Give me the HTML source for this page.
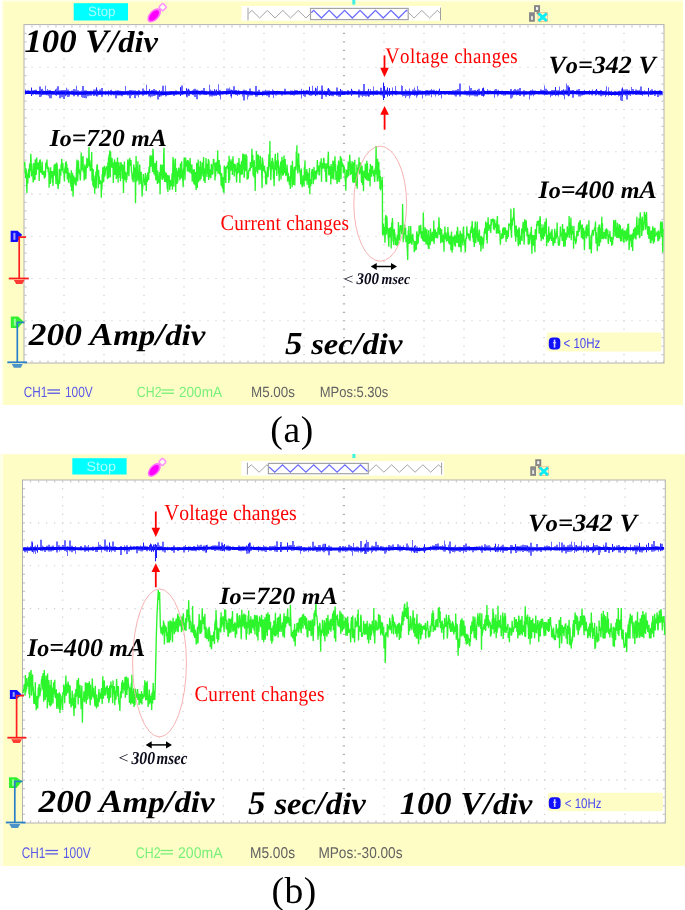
<!DOCTYPE html>
<html><head><meta charset="utf-8"><style>html,body{margin:0;padding:0;background:#fff;width:685px;height:910px;overflow:hidden}svg{display:block;filter:blur(0.5px)}</style></head>
<body>
<svg width="685" height="910" viewBox="0 0 685 910" text-rendering="geometricPrecision">
<rect width="685" height="910" fill="#fff"/>
<rect x="1.6" y="0" width="681.6" height="405" fill="#fffee8"/>
<rect x="3.4" y="1.5" width="679.6" height="403.5" fill="#fffdc6"/>
<rect x="73.7" y="3.2" width="54.3" height="17.3" fill="#00ffff"/>
<text x="88.10" y="16.30" font-family="Liberation Sans" font-size="13.66" font-weight="normal" font-style="normal" fill="#a8ffff" textLength="27.3" lengthAdjust="spacingAndGlyphs" >Stop</text>
<g transform="translate(147.50,2.60) scale(1.000,1.000) translate(-147.5,-2.6)">
<ellipse cx="154.2" cy="15.3" rx="8.6" ry="4.9" transform="rotate(-47 154.2 15.3)" fill="#ff70ff"/>
<path d="M148.3,21.6 L148.6,17.5 L152,19.8 Z" fill="#ff70ff"/>
<ellipse cx="154" cy="15.5" rx="6.4" ry="3.4" transform="rotate(-47 154 15.5)" fill="#ff00ff"/>
<rect x="159.9" y="4.3" width="5.6" height="5.6" rx="1.2" transform="rotate(45 162.7 7.1)" fill="#fffff0" stroke="#ff8cff" stroke-width="1.5"/>
</g>
<rect x="241.5" y="6" width="199.5" height="14.7" fill="#fff"/>
<polyline points="248.60,13.65 251.90,10.40 259.63,18.00 267.35,10.40 275.08,18.00 282.80,10.40 290.53,18.00 298.25,10.40 305.98,18.00 310.50,13.55" fill="none" stroke="#9a9a9a" stroke-width="0.90"/>
<polyline points="408.20,12.17 414.13,18.00 421.85,10.40 429.58,18.00 437.30,10.40 439.90,12.96" fill="none" stroke="#9a9a9a" stroke-width="0.90"/>
<rect x="310.50" y="8.40" width="97.70" height="11.20" fill="none" stroke="#a4a4a4" stroke-width="1.2"/>
<polyline points="311.30,12.76 313.70,10.40 321.43,18.00 329.15,10.40 336.88,18.00 344.60,10.40 352.33,18.00 360.05,10.40 367.78,18.00 375.50,10.40 383.23,18.00 390.95,10.40 398.68,18.00 406.40,10.40 407.40,11.38" fill="none" stroke="#6c6cff" stroke-width="1.30"/>
<line x1="248.00" y1="7.60" x2="248.00" y2="20.40" stroke="#a0a0a0" stroke-width="1.0"/>
<line x1="440.50" y1="7.60" x2="440.50" y2="20.40" stroke="#a0a0a0" stroke-width="1.0"/>
<rect x="352.3" y="0" width="3" height="4.6" fill="#40f0e0"/>
<g transform="translate(0.00,0.00) scale(1.000)">
<rect x="535" y="6.1" width="4.1" height="4.9" fill="#f4f4ee" stroke="#858585" stroke-width="1.9"/>
<rect x="536.6" y="10.8" width="2.4" height="3.4" fill="#8a8a8a"/>
<rect x="530" y="13.2" width="3.9" height="7.6" fill="#e8e8e0" stroke="#858585" stroke-width="1.9"/>
<rect x="530.9" y="14" width="2.1" height="2.2" fill="#8a8a98"/>
<rect x="538" y="12.6" width="9.4" height="8.8" fill="none" stroke="#e0a070" stroke-width="0.8" opacity="0.7"/>
<path d="M538.6,13.4 L546.8,21 M546.8,13.4 L538.6,21" stroke="#14e8f0" stroke-width="2.8"/>
<rect x="540.5" y="15" width="4.4" height="4.4" fill="#10f0f4"/>
</g>
<rect x="24" y="24.5" width="640" height="338.5" fill="#fff"/>
<line x1="31.40" y1="67.25" x2="664.00" y2="67.25" stroke="#cfcfcf" stroke-width="1.2" stroke-dasharray="1.2 6.800"/>
<line x1="31.40" y1="109.50" x2="664.00" y2="109.50" stroke="#cfcfcf" stroke-width="1.2" stroke-dasharray="1.2 6.800"/>
<line x1="31.40" y1="151.75" x2="664.00" y2="151.75" stroke="#cfcfcf" stroke-width="1.2" stroke-dasharray="1.2 6.800"/>
<line x1="31.40" y1="194.00" x2="664.00" y2="194.00" stroke="#bdbdbd" stroke-width="1.2" stroke-dasharray="1.2 6.800"/>
<line x1="31.40" y1="236.25" x2="664.00" y2="236.25" stroke="#cfcfcf" stroke-width="1.2" stroke-dasharray="1.2 6.800"/>
<line x1="31.40" y1="278.50" x2="664.00" y2="278.50" stroke="#cfcfcf" stroke-width="1.2" stroke-dasharray="1.2 6.800"/>
<line x1="31.40" y1="320.75" x2="664.00" y2="320.75" stroke="#cfcfcf" stroke-width="1.2" stroke-dasharray="1.2 6.800"/>
<line x1="64.00" y1="32.85" x2="64.00" y2="363.00" stroke="#cfcfcf" stroke-width="1.2" stroke-dasharray="1.2 7.250"/>
<line x1="104.00" y1="32.85" x2="104.00" y2="363.00" stroke="#cfcfcf" stroke-width="1.2" stroke-dasharray="1.2 7.250"/>
<line x1="144.00" y1="32.85" x2="144.00" y2="363.00" stroke="#cfcfcf" stroke-width="1.2" stroke-dasharray="1.2 7.250"/>
<line x1="184.00" y1="32.85" x2="184.00" y2="363.00" stroke="#cfcfcf" stroke-width="1.2" stroke-dasharray="1.2 7.250"/>
<line x1="224.00" y1="32.85" x2="224.00" y2="363.00" stroke="#cfcfcf" stroke-width="1.2" stroke-dasharray="1.2 7.250"/>
<line x1="264.00" y1="32.85" x2="264.00" y2="363.00" stroke="#cfcfcf" stroke-width="1.2" stroke-dasharray="1.2 7.250"/>
<line x1="304.00" y1="32.85" x2="304.00" y2="363.00" stroke="#cfcfcf" stroke-width="1.2" stroke-dasharray="1.2 7.250"/>
<line x1="344.00" y1="32.85" x2="344.00" y2="363.00" stroke="#b0b0b0" stroke-width="2.2" stroke-dasharray="1.2 7.250"/>
<line x1="384.00" y1="32.85" x2="384.00" y2="363.00" stroke="#cfcfcf" stroke-width="1.2" stroke-dasharray="1.2 7.250"/>
<line x1="424.00" y1="32.85" x2="424.00" y2="363.00" stroke="#cfcfcf" stroke-width="1.2" stroke-dasharray="1.2 7.250"/>
<line x1="464.00" y1="32.85" x2="464.00" y2="363.00" stroke="#cfcfcf" stroke-width="1.2" stroke-dasharray="1.2 7.250"/>
<line x1="504.00" y1="32.85" x2="504.00" y2="363.00" stroke="#cfcfcf" stroke-width="1.2" stroke-dasharray="1.2 7.250"/>
<line x1="544.00" y1="32.85" x2="544.00" y2="363.00" stroke="#cfcfcf" stroke-width="1.2" stroke-dasharray="1.2 7.250"/>
<line x1="584.00" y1="32.85" x2="584.00" y2="363.00" stroke="#cfcfcf" stroke-width="1.2" stroke-dasharray="1.2 7.250"/>
<line x1="624.00" y1="32.85" x2="624.00" y2="363.00" stroke="#cfcfcf" stroke-width="1.2" stroke-dasharray="1.2 7.250"/>
<line x1="31.40" y1="26.50" x2="664.00" y2="26.50" stroke="#c8c8c8" stroke-width="2" stroke-dasharray="1.2 6.800"/>
<line x1="31.40" y1="361.50" x2="664.00" y2="361.50" stroke="#c8c8c8" stroke-width="2" stroke-dasharray="1.2 6.800"/>
<line x1="25.50" y1="32.85" x2="25.50" y2="363.00" stroke="#c8c8c8" stroke-width="2" stroke-dasharray="1.2 7.250"/>
<line x1="662.50" y1="32.85" x2="662.50" y2="363.00" stroke="#c8c8c8" stroke-width="2" stroke-dasharray="1.2 7.250"/>
<rect x="24" y="24.6" width="640" height="338.4" fill="none" stroke="#b2b2b2" stroke-width="1.0"/>
<path d="M10.60,230.70 L17.50,230.70 L22.10,234.80 L17.50,242.00 L10.60,242.00 Z" fill="#1010ff"/>
<rect x="13.39" y="232.90" width="2.00" height="6.90" fill="#d8d8ff" opacity="0.75"/>
<path d="M19.2,278.5 L19.2,237.2 L26,237.2" stroke="#ff2020" stroke-width="1.7" fill="none"/>
<line x1="8.80" y1="278.50" x2="28.80" y2="278.50" stroke="#ff1a1a" stroke-width="1.8"/>
<path d="M13.80,280.10 L24.60,280.10 L22.25,283.90 L16.15,283.90 Z" fill="#ff1a1a" opacity="0.85"/>
<path d="M10.80,316.50 L18.12,316.50 L23.60,321.50 L18.12,328.00 L10.80,328.00 Z" fill="#30f030"/>
<rect x="13.83" y="318.70" width="2.00" height="7.10" fill="#c0ffc0" opacity="0.75"/>
<path d="M17.3,362.3 L17.3,322.3 L24.5,322.3" stroke="#2a80c8" stroke-width="1.7" fill="none"/>
<line x1="7.30" y1="362.30" x2="27.00" y2="362.30" stroke="#2a80c8" stroke-width="1.8"/>
<path d="M11.80,363.90 L22.80,363.90 L20.75,367.70 L13.85,367.70 Z" fill="#2a80c8" opacity="0.85"/>
<path d="M25 89.5h1v4.9h-1ZM27 90.3h2v3.6h-2ZM31 89.8h1v5.1h-1ZM32 90.4h2v4.3h-2ZM34 90.1h1v4.0h-1ZM35 89.8h2v4.8h-2ZM37 91.0h2v3.2h-2ZM39 86.4h2v10.7h-2ZM41 89.1h1v7.5h-1ZM42 88.8h1v5.9h-1ZM43 90.6h1v3.8h-1ZM44 90.9h1v3.5h-1ZM45 85.7h1v8.8h-1ZM46 90.7h1v4.6h-1ZM47 89.0h1v6.3h-1ZM48 90.2h1v6.1h-1ZM49 89.9h2v8.4h-2ZM51 90.9h1v7.4h-1ZM52 91.3h2v3.3h-2ZM54 90.7h1v3.7h-1ZM55 89.2h1v5.7h-1ZM56 88.5h1v7.6h-1ZM57 86.2h2v8.6h-2ZM59 90.3h2v7.9h-2ZM61 90.0h2v7.2h-2ZM63 90.0h2v9.0h-2ZM65 90.4h1v5.8h-1ZM66 87.7h1v7.7h-1ZM67 89.4h2v7.6h-2ZM69 91.1h1v5.4h-1ZM71 90.6h2v3.8h-2ZM73 89.1h2v7.2h-2ZM75 89.5h1v5.1h-1ZM76 85.8h1v8.9h-1ZM77 90.3h2v6.2h-2ZM79 91.3h2v3.3h-2ZM81 90.5h1v6.5h-1ZM82 86.0h2v11.8h-2ZM84 90.3h1v7.7h-1ZM85 90.2h2v8.0h-2ZM87 91.3h2v4.9h-2ZM89 91.3h1v4.5h-1ZM90 90.8h2v4.9h-2ZM93 89.5h2v6.5h-2ZM95 89.6h1v5.7h-1ZM96 89.7h2v6.9h-2ZM98 91.4h1v3.8h-1ZM99 89.6h2v5.4h-2ZM101 88.1h2v8.6h-2ZM105 90.7h1v4.5h-1ZM108 90.2h1v6.1h-1ZM110 89.9h1v5.4h-1ZM111 89.7h1v5.9h-1ZM112 90.9h1v3.6h-1ZM113 91.4h2v3.9h-2ZM115 90.5h2v7.8h-2ZM117 90.3h2v5.1h-2ZM119 90.8h2v4.6h-2ZM121 91.1h2v5.2h-2ZM123 91.4h2v3.6h-2ZM125 86.1h1v8.6h-1ZM126 91.2h1v3.6h-1ZM127 90.8h2v4.6h-2ZM129 89.9h2v8.3h-2ZM131 90.0h1v5.7h-1ZM132 90.3h2v4.8h-2ZM134 90.6h1v7.5h-1ZM135 90.2h1v8.1h-1ZM136 91.1h2v4.3h-2ZM138 89.9h1v7.4h-1ZM139 90.3h1v4.6h-1ZM142 88.6h2v7.2h-2ZM144 90.2h1v4.5h-1ZM145 91.1h1v3.4h-1ZM146 84.8h1v10.2h-1ZM148 90.7h2v5.8h-2ZM150 91.0h1v6.4h-1ZM151 90.0h2v6.4h-2ZM153 88.9h2v7.1h-2ZM155 89.9h1v5.7h-1ZM156 90.3h1v4.4h-1ZM157 91.2h2v8.4h-2ZM159 91.4h2v5.0h-2ZM161 90.7h1v5.6h-1ZM162 85.8h2v9.6h-2ZM164 91.6h1v3.3h-1ZM165 85.6h1v10.9h-1ZM166 91.3h1v5.0h-1ZM167 91.6h2v3.6h-2ZM169 91.0h2v3.7h-2ZM171 90.9h2v3.7h-2ZM173 91.2h2v4.9h-2ZM175 90.6h2v4.1h-2ZM181 85.5h2v9.2h-2ZM186 89.6h2v7.7h-2ZM188 89.8h2v6.1h-2ZM192 90.6h1v4.5h-1ZM193 89.3h1v6.0h-1ZM194 88.7h2v8.3h-2ZM196 89.8h2v9.4h-2ZM198 90.4h1v3.9h-1ZM199 90.7h2v4.6h-2ZM201 90.3h2v4.2h-2ZM203 88.0h2v6.8h-2ZM205 91.2h1v3.7h-1ZM206 90.7h1v4.3h-1ZM209 84.8h1v11.7h-1ZM210 89.6h1v6.7h-1ZM211 90.5h2v6.0h-2ZM213 91.5h2v4.3h-2ZM215 90.6h1v5.2h-1ZM217 91.1h1v3.8h-1ZM218 84.2h1v10.9h-1ZM219 89.9h1v6.1h-1ZM220 90.2h1v9.2h-1ZM226 88.6h1v6.3h-1ZM227 88.4h2v5.9h-2ZM229 87.6h1v6.5h-1ZM230 89.4h1v7.1h-1ZM231 90.1h1v8.1h-1ZM232 90.1h1v4.1h-1ZM233 86.3h2v8.3h-2ZM235 90.0h2v4.9h-2ZM237 90.7h1v5.2h-1ZM238 89.8h1v4.6h-1ZM239 90.7h1v4.4h-1ZM242 90.8h1v5.7h-1ZM243 89.7h2v10.8h-2ZM245 90.2h2v4.5h-2ZM247 91.3h1v8.3h-1ZM248 91.3h1v5.4h-1ZM249 88.5h2v7.0h-2ZM251 91.2h2v4.3h-2ZM255 86.1h2v10.6h-2ZM257 91.1h1v5.4h-1ZM258 89.8h2v5.4h-2ZM262 90.7h1v5.6h-1ZM263 90.8h2v4.5h-2ZM265 89.8h1v5.3h-1ZM266 90.4h2v5.4h-2ZM268 90.6h2v6.7h-2ZM270 91.1h2v3.2h-2ZM272 89.2h1v5.8h-1ZM273 90.3h1v7.7h-1ZM275 91.3h2v4.2h-2ZM277 90.8h1v4.0h-1ZM278 91.1h1v3.1h-1ZM281 91.3h2v4.3h-2ZM284 88.8h2v5.9h-2ZM290 90.6h1v4.6h-1ZM291 90.6h2v4.4h-2ZM293 91.1h1v4.5h-1ZM294 89.8h1v5.7h-1ZM295 90.0h2v4.6h-2ZM297 90.2h1v4.5h-1ZM298 91.0h1v3.5h-1ZM299 90.7h2v3.8h-2ZM301 88.8h1v9.6h-1ZM303 89.7h1v6.4h-1ZM304 90.5h2v6.2h-2ZM306 90.0h2v4.2h-2ZM308 90.6h2v4.2h-2ZM310 90.9h2v4.8h-2ZM312 85.8h1v9.4h-1ZM313 90.7h2v3.9h-2ZM315 88.6h2v6.6h-2ZM317 86.0h1v9.3h-1ZM319 90.4h2v4.3h-2ZM321 85.6h2v13.4h-2ZM324 90.4h1v4.7h-1ZM325 91.5h1v4.9h-1ZM326 91.2h1v5.5h-1ZM327 88.8h2v5.7h-2ZM330 90.6h1v5.0h-1ZM331 91.2h1v4.7h-1ZM332 91.5h2v4.8h-2ZM336 87.5h2v8.2h-2ZM338 91.0h2v5.7h-2ZM340 90.4h1v5.4h-1ZM341 90.2h2v4.9h-2ZM343 90.9h2v4.2h-2ZM347 90.3h2v4.7h-2ZM351 90.3h2v4.0h-2ZM358 89.6h2v7.8h-2ZM360 90.7h1v4.9h-1ZM361 91.4h1v4.4h-1ZM362 90.8h1v6.2h-1ZM363 83.9h2v12.1h-2ZM365 91.3h2v5.2h-2ZM367 90.7h1v5.4h-1ZM368 91.5h2v5.1h-2ZM370 89.1h1v5.9h-1ZM371 90.9h2v3.9h-2ZM373 86.5h1v9.6h-1ZM374 90.7h2v4.1h-2ZM376 90.2h2v4.9h-2ZM380 87.8h2v7.5h-2ZM382 90.7h1v5.7h-1ZM383 89.6h2v6.0h-2ZM385 89.8h2v4.7h-2ZM387 89.2h1v5.9h-1ZM388 90.7h2v3.8h-2ZM390 91.0h2v3.4h-2ZM392 87.6h1v8.7h-1ZM395 86.1h1v9.0h-1ZM396 90.8h1v4.5h-1ZM401 85.2h1v9.9h-1ZM402 86.1h1v10.5h-1ZM403 91.3h2v4.6h-2ZM405 89.3h1v8.8h-1ZM406 90.4h1v6.0h-1ZM407 90.8h2v5.1h-2ZM409 88.4h1v10.1h-1ZM410 90.9h1v5.4h-1ZM412 89.4h2v5.3h-2ZM414 87.6h1v8.4h-1ZM415 89.9h1v5.3h-1ZM416 90.7h1v7.0h-1ZM417 85.9h1v10.3h-1ZM418 89.4h1v5.1h-1ZM419 90.2h2v4.2h-2ZM421 90.8h1v3.7h-1ZM422 90.8h1v7.7h-1ZM423 91.1h2v3.7h-2ZM425 90.2h1v6.1h-1ZM426 89.9h2v5.6h-2ZM428 90.8h2v4.8h-2ZM430 90.2h1v4.1h-1ZM431 88.9h1v8.4h-1ZM432 89.9h1v4.1h-1ZM433 89.8h2v4.6h-2ZM435 91.2h1v5.2h-1ZM436 90.2h1v4.3h-1ZM438 90.6h1v5.2h-1ZM439 91.1h2v3.9h-2ZM441 91.1h1v7.4h-1ZM444 91.1h2v3.7h-2ZM448 91.1h1v3.8h-1ZM449 91.2h1v3.6h-1ZM450 91.2h2v3.2h-2ZM452 90.3h2v4.2h-2ZM454 90.6h1v4.9h-1ZM455 90.1h2v6.3h-2ZM457 89.1h2v5.4h-2ZM459 83.4h2v13.1h-2ZM464 90.4h2v4.2h-2ZM466 90.9h2v4.5h-2ZM468 90.4h1v4.9h-1ZM469 85.8h1v10.9h-1ZM470 87.9h2v7.6h-2ZM472 90.2h2v5.3h-2ZM474 89.9h2v6.4h-2ZM476 90.8h2v5.7h-2ZM478 88.8h2v6.4h-2ZM481 90.8h2v5.2h-2ZM483 89.9h2v5.8h-2ZM487 88.9h1v5.4h-1ZM488 90.5h1v3.7h-1ZM489 90.4h2v3.7h-2ZM492 91.0h2v3.0h-2ZM494 89.8h1v8.0h-1ZM495 89.0h2v5.2h-2ZM497 90.6h1v6.0h-1ZM498 89.8h1v5.7h-1ZM501 90.7h2v4.1h-2ZM503 91.3h1v4.4h-1ZM504 91.2h2v4.2h-2ZM510 89.0h2v9.6h-2ZM512 90.9h1v6.7h-1ZM513 89.9h1v5.3h-1ZM514 89.0h2v5.4h-2ZM516 90.0h1v5.4h-1ZM517 89.3h2v5.8h-2ZM519 88.1h2v7.8h-2ZM523 90.2h2v6.4h-2ZM525 91.3h2v3.4h-2ZM529 91.2h1v8.4h-1ZM530 90.3h2v5.1h-2ZM532 89.3h1v5.2h-1ZM533 90.6h1v5.6h-1ZM534 90.4h1v4.6h-1ZM535 90.6h1v3.7h-1ZM538 91.1h2v3.3h-2ZM540 89.6h2v4.7h-2ZM542 90.1h2v4.3h-2ZM544 85.4h1v10.0h-1ZM545 88.7h2v6.1h-2ZM547 90.1h1v4.3h-1ZM550 91.0h1v6.3h-1ZM551 89.9h2v5.9h-2ZM553 90.0h2v4.4h-2ZM555 90.9h1v5.3h-1ZM556 90.3h2v4.9h-2ZM558 90.1h1v6.5h-1ZM559 86.6h1v7.8h-1ZM560 90.9h1v3.6h-1ZM561 90.0h2v4.8h-2ZM563 91.1h1v4.7h-1ZM564 90.2h1v9.1h-1ZM565 89.5h1v4.9h-1ZM566 83.5h1v11.5h-1ZM567 85.4h2v10.0h-2ZM569 87.1h1v8.0h-1ZM570 90.6h2v3.6h-2ZM572 89.9h2v7.8h-2ZM576 89.8h2v4.8h-2ZM578 88.9h2v7.5h-2ZM580 90.9h1v5.5h-1ZM581 90.9h2v4.5h-2ZM583 90.7h1v4.2h-1ZM584 89.8h1v5.2h-1ZM585 91.2h2v3.1h-2ZM587 91.0h2v3.2h-2ZM589 90.1h1v4.9h-1ZM591 90.8h1v4.4h-1ZM592 89.4h1v6.2h-1ZM595 90.0h1v5.7h-1ZM596 90.4h2v3.6h-2ZM598 91.1h2v4.2h-2ZM600 90.1h2v6.2h-2ZM602 91.0h2v4.5h-2ZM604 91.4h1v3.3h-1ZM605 90.3h1v6.6h-1ZM606 86.2h1v9.4h-1ZM608 87.2h1v9.1h-1ZM609 90.9h1v4.1h-1ZM611 90.7h1v5.4h-1ZM614 91.0h2v4.4h-2ZM618 91.1h1v5.3h-1ZM619 90.7h1v5.4h-1ZM620 90.9h1v9.4h-1ZM621 88.7h2v12.4h-2ZM623 89.6h2v5.0h-2ZM625 89.5h1v6.2h-1ZM626 89.2h2v10.2h-2ZM628 90.5h1v4.7h-1ZM629 89.7h1v5.5h-1ZM630 90.9h1v5.0h-1ZM631 86.9h1v7.2h-1ZM632 89.1h2v5.3h-2ZM635 89.4h2v5.5h-2ZM637 90.2h2v4.1h-2ZM639 89.7h1v4.9h-1ZM640 86.4h2v8.5h-2ZM642 91.0h1v5.1h-1ZM644 90.3h1v3.9h-1ZM650 90.1h1v4.9h-1ZM651 89.2h2v5.6h-2ZM654 90.2h1v5.8h-1ZM655 90.3h1v5.5h-1ZM656 91.0h1v3.3h-1ZM657 90.8h2v6.3h-2ZM659 90.2h2v5.3h-2ZM661 91.2h2v4.0h-2Z" fill="#3030ff" opacity="0.72"/>
<polyline points="25,92.51 26,92.45 27,92.40 28,92.36 29,92.33 30,92.31 31,92.31 32,92.32 33,92.35 34,92.39 35,92.44 36,92.49 37,92.54 38,92.60 39,92.65 40,92.69 41,92.72 42,92.74 43,92.75 44,92.75 45,92.75 46,92.74 47,92.73 48,92.72 49,92.71 50,92.72 51,92.72 52,92.74 53,92.76 54,92.79 55,92.81 56,92.84 57,92.86 58,92.88 59,92.89 60,92.89 61,92.89 62,92.88 63,92.88 64,92.87 65,92.86 66,92.86 67,92.87 68,92.88 69,92.89 70,92.91 71,92.94 72,92.97 73,93.00 74,93.03 75,93.06 76,93.08 77,93.10 78,93.11 79,93.12 80,93.11 81,93.10 82,93.08 83,93.05 84,93.02 85,92.99 86,92.96 87,92.93 88,92.91 89,92.89 90,92.88 91,92.88 92,92.88 93,92.88 94,92.89 95,92.90 96,92.91 97,92.92 98,92.92 99,92.92 100,92.91 101,92.90 102,92.88 103,92.86 104,92.84 105,92.83 106,92.81 107,92.80 108,92.80 109,92.80 110,92.81 111,92.82 112,92.85 113,92.88 114,92.90 115,92.93 116,92.96 117,92.99 118,93.01 119,93.02 120,93.02 121,93.02 122,93.01 123,92.99 124,92.97 125,92.95 126,92.93 127,92.90 128,92.88 129,92.86 130,92.83 131,92.82 132,92.80 133,92.79 134,92.79 135,92.79 136,92.79 137,92.79 138,92.80 139,92.81 140,92.81 141,92.80 142,92.79 143,92.78 144,92.76 145,92.73 146,92.70 147,92.67 148,92.65 149,92.64 150,92.63 151,92.64 152,92.67 153,92.70 154,92.75 155,92.82 156,92.89 157,92.96 158,93.03 159,93.10 160,93.16 161,93.21 162,93.24 163,93.26 164,93.26 165,93.24 166,93.21 167,93.18 168,93.13 169,93.08 170,93.03 171,92.98 172,92.94 173,92.90 174,92.88 175,92.85 176,92.84 177,92.82 178,92.81 179,92.81 180,92.79 181,92.78 182,92.76 183,92.74 184,92.72 185,92.69 186,92.67 187,92.64 188,92.61 189,92.58 190,92.56 191,92.54 192,92.52 193,92.51 194,92.50 195,92.50 196,92.51 197,92.52 198,92.53 199,92.55 200,92.58 201,92.61 202,92.65 203,92.69 204,92.73 205,92.77 206,92.81 207,92.85 208,92.89 209,92.92 210,92.95 211,92.97 212,92.98 213,92.99 214,92.99 215,92.98 216,92.97 217,92.96 218,92.94 219,92.91 220,92.89 221,92.85 222,92.81 223,92.76 224,92.71 225,92.65 226,92.60 227,92.55 228,92.50 229,92.46 230,92.43 231,92.41 232,92.41 233,92.42 234,92.44 235,92.46 236,92.49 237,92.53 238,92.56 239,92.59 240,92.62 241,92.64 242,92.66 243,92.68 244,92.70 245,92.72 246,92.75 247,92.79 248,92.84 249,92.89 250,92.95 251,93.01 252,93.08 253,93.14 254,93.20 255,93.26 256,93.31 257,93.34 258,93.37 259,93.38 260,93.38 261,93.37 262,93.35 263,93.31 264,93.27 265,93.22 266,93.17 267,93.11 268,93.05 269,92.99 270,92.93 271,92.88 272,92.83 273,92.79 274,92.76 275,92.73 276,92.72 277,92.72 278,92.73 279,92.74 280,92.76 281,92.79 282,92.82 283,92.84 284,92.87 285,92.89 286,92.90 287,92.91 288,92.91 289,92.91 290,92.90 291,92.88 292,92.85 293,92.82 294,92.79 295,92.76 296,92.73 297,92.70 298,92.68 299,92.66 300,92.64 301,92.64 302,92.64 303,92.64 304,92.65 305,92.67 306,92.69 307,92.71 308,92.72 309,92.74 310,92.76 311,92.77 312,92.79 313,92.81 314,92.82 315,92.84 316,92.86 317,92.88 318,92.91 319,92.93 320,92.95 321,92.97 322,92.98 323,92.99 324,93.00 325,93.01 326,93.01 327,93.02 328,93.02 329,93.03 330,93.04 331,93.05 332,93.07 333,93.09 334,93.11 335,93.13 336,93.15 337,93.17 338,93.18 339,93.19 340,93.18 341,93.16 342,93.14 343,93.10 344,93.06 345,93.01 346,92.96 347,92.90 348,92.85 349,92.81 350,92.78 351,92.75 352,92.74 353,92.74 354,92.75 355,92.77 356,92.79 357,92.82 358,92.85 359,92.87 360,92.89 361,92.91 362,92.92 363,92.92 364,92.92 365,92.91 366,92.90 367,92.89 368,92.87 369,92.86 370,92.86 371,92.86 372,92.86 373,92.87 374,92.88 375,92.89 376,92.91 377,92.93 378,92.94 379,92.96 380,92.97 381,92.97 382,92.97 383,92.97 384,92.96 385,92.94 386,92.92 387,92.89 388,92.86 389,92.83 390,92.81 391,92.78 392,92.76 393,92.75 394,92.74 395,92.74 396,92.75 397,92.77 398,92.79 399,92.81 400,92.83 401,92.86 402,92.88 403,92.90 404,92.91 405,92.93 406,92.94 407,92.95 408,92.96 409,92.97 410,92.98 411,92.99 412,93.00 413,93.01 414,93.02 415,93.02 416,93.02 417,93.00 418,92.98 419,92.94 420,92.90 421,92.84 422,92.78 423,92.72 424,92.66 425,92.61 426,92.57 427,92.53 428,92.51 429,92.51 430,92.51 431,92.52 432,92.54 433,92.56 434,92.58 435,92.61 436,92.62 437,92.63 438,92.64 439,92.64 440,92.64 441,92.63 442,92.62 443,92.62 444,92.61 445,92.62 446,92.62 447,92.64 448,92.66 449,92.69 450,92.72 451,92.76 452,92.79 453,92.83 454,92.86 455,92.89 456,92.92 457,92.94 458,92.95 459,92.96 460,92.96 461,92.96 462,92.95 463,92.95 464,92.94 465,92.93 466,92.93 467,92.92 468,92.92 469,92.92 470,92.92 471,92.93 472,92.93 473,92.94 474,92.94 475,92.95 476,92.95 477,92.94 478,92.92 479,92.90 480,92.88 481,92.84 482,92.81 483,92.76 484,92.72 485,92.68 486,92.64 487,92.61 488,92.58 489,92.56 490,92.55 491,92.55 492,92.56 493,92.57 494,92.59 495,92.61 496,92.63 497,92.65 498,92.67 499,92.69 500,92.70 501,92.71 502,92.71 503,92.72 504,92.72 505,92.72 506,92.73 507,92.73 508,92.75 509,92.76 510,92.79 511,92.81 512,92.84 513,92.86 514,92.88 515,92.90 516,92.92 517,92.93 518,92.93 519,92.93 520,92.92 521,92.91 522,92.90 523,92.89 524,92.87 525,92.86 526,92.84 527,92.83 528,92.81 529,92.79 530,92.77 531,92.75 532,92.74 533,92.72 534,92.70 535,92.69 536,92.68 537,92.68 538,92.67 539,92.67 540,92.68 541,92.69 542,92.70 543,92.71 544,92.73 545,92.75 546,92.78 547,92.81 548,92.84 549,92.87 550,92.90 551,92.94 552,92.96 553,92.99 554,93.01 555,93.01 556,93.01 557,93.00 558,92.98 559,92.95 560,92.91 561,92.86 562,92.81 563,92.75 564,92.69 565,92.63 566,92.57 567,92.52 568,92.48 569,92.45 570,92.43 571,92.43 572,92.44 573,92.46 574,92.49 575,92.53 576,92.57 577,92.61 578,92.64 579,92.67 580,92.70 581,92.72 582,92.73 583,92.73 584,92.73 585,92.72 586,92.71 587,92.69 588,92.67 589,92.65 590,92.62 591,92.60 592,92.58 593,92.56 594,92.55 595,92.56 596,92.57 597,92.59 598,92.63 599,92.67 600,92.72 601,92.78 602,92.84 603,92.90 604,92.96 605,93.01 606,93.06 607,93.11 608,93.16 609,93.19 610,93.23 611,93.26 612,93.28 613,93.29 614,93.30 615,93.30 616,93.29 617,93.26 618,93.23 619,93.18 620,93.13 621,93.06 622,93.00 623,92.93 624,92.87 625,92.81 626,92.76 627,92.71 628,92.68 629,92.66 630,92.65 631,92.64 632,92.65 633,92.66 634,92.67 635,92.69 636,92.71 637,92.73 638,92.75 639,92.77 640,92.79 641,92.81 642,92.83 643,92.84 644,92.85 645,92.86 646,92.86 647,92.86 648,92.85 649,92.83 650,92.82 651,92.80 652,92.77 653,92.75 654,92.72 655,92.70 656,92.67 657,92.65 658,92.63 659,92.62 660,92.60 661,92.60 662,92.59" fill="none" stroke="#0606ff" stroke-width="3.30"/>
<path d="M31.5 87.6V96.0M41.5 90.0V94.9M55.5 90.0V95.2M65.5 90.4V95.2M96.5 87.4V95.9M149.5 89.1V95.4M159.5 90.2V96.7M180.5 87.1V96.0M186.5 88.2V95.9M188.5 88.8V94.9M214.5 89.2V95.3M216.5 89.5V95.7M231.5 89.8V96.3M309.5 86.8V95.3M315.5 87.7V96.1M322.5 89.6V95.3M328.5 88.0V95.2M329.5 89.5V96.0M340.5 89.0V96.6M351.5 88.8V95.8M368.5 88.9V96.5M387.5 87.5V96.6M389.5 88.1V96.0M439.5 88.7V94.9M477.5 89.8V95.5M482.5 88.3V95.5M483.5 87.6V96.6M555.5 87.1V95.1M563.5 89.3V95.1M568.5 87.4V96.3M569.5 87.8V95.6M596.5 89.0V95.1M622.5 87.5V96.7M648.5 87.9V96.6M383.5 82.6V100.0M384.5 86.0V98.0" stroke="#2020ff" stroke-width="1" fill="none"/>
<polyline points="24.50,165.8 24.80,161.8 25.10,173.5 25.40,170.3 25.70,178.3 26.00,168.5 26.30,171.6 26.60,181.5 26.90,192.9 27.20,174.2 27.50,177.2 27.80,183.6 28.10,172.5 28.40,172.0 28.70,168.9 29.00,171.8 29.30,177.9 29.60,163.6 29.90,169.2 30.20,170.9 30.50,166.2 30.80,153.7 31.10,160.1 31.40,176.5 31.70,163.5 32.00,167.3 32.30,172.7 32.60,170.7 32.90,175.9 33.20,182.4 33.50,178.8 33.80,162.9 34.10,168.1 34.40,180.2 34.70,165.9 35.00,179.8 35.30,159.3 35.60,167.9 35.90,174.0 36.20,174.9 36.50,168.7 36.80,157.5 37.10,167.5 37.40,168.5 37.70,169.7 38.00,163.0 38.30,167.8 38.60,163.9 38.90,162.1 39.20,181.1 39.50,162.9 39.80,159.8 40.10,164.2 40.40,159.4 40.70,172.1 41.00,172.5 41.30,170.9 41.60,173.4 41.90,168.8 42.20,161.7 42.50,175.0 42.80,171.8 43.10,173.6 43.40,171.5 43.70,175.1 44.00,170.8 44.30,178.4 44.60,173.9 44.90,170.8 45.20,177.3 45.50,175.4 45.80,163.1 46.10,165.5 46.40,162.0 46.70,166.7 47.00,159.6 47.30,169.1 47.60,166.5 47.90,167.1 48.20,172.4 48.50,171.6 48.80,167.5 49.10,187.8 49.40,173.3 49.70,171.6 50.00,175.9 50.30,184.0 50.60,167.3 50.90,175.8 51.20,177.7 51.50,171.8 51.80,171.1 52.10,177.6 52.40,182.8 52.70,171.0 53.00,186.1 53.30,175.7 53.60,174.0 53.90,171.1 54.20,164.7 54.50,172.4 54.80,175.8 55.10,163.8 55.40,174.5 55.70,176.8 56.00,184.0 56.30,164.8 56.60,162.6 56.90,168.8 57.20,164.2 57.50,185.2 57.80,181.9 58.10,189.0 58.40,186.0 58.70,180.6 59.00,179.9 59.30,168.7 59.60,183.8 59.90,178.9 60.20,169.2 60.50,174.2 60.80,175.7 61.10,164.3 61.40,169.9 61.70,159.1 62.00,164.5 62.30,170.6 62.60,166.6 62.90,163.1 63.20,172.4 63.50,172.6 63.80,172.2 64.10,174.9 64.40,181.5 64.70,170.3 65.00,167.7 65.30,167.5 65.60,162.3 65.90,173.6 66.20,161.2 66.50,171.6 66.80,164.1 67.10,173.3 67.40,179.3 67.70,167.9 68.00,170.6 68.30,178.9 68.60,182.7 68.90,172.6 69.20,175.8 69.50,173.1 69.80,176.4 70.10,175.7 70.40,183.6 70.70,180.5 71.00,186.9 71.30,170.3 71.60,191.1 71.90,184.9 72.20,173.3 72.50,172.9 72.80,178.6 73.10,196.8 73.40,181.2 73.70,175.5 74.00,184.7 74.30,177.3 74.60,181.0 74.90,178.3 75.20,177.5 75.50,182.7 75.80,184.3 76.10,185.8 76.40,170.4 76.70,167.2 77.00,159.6 77.30,166.0 77.60,181.5 77.90,176.9 78.20,169.2 78.50,160.4 78.80,172.6 79.10,168.7 79.40,171.5 79.70,174.1 80.00,173.8 80.30,180.5 80.60,172.7 80.90,169.7 81.20,152.4 81.50,167.2 81.80,170.5 82.10,165.2 82.40,157.3 82.70,161.7 83.00,156.1 83.30,172.3 83.60,171.9 83.90,168.5 84.20,180.4 84.50,174.1 84.80,164.2 85.10,167.2 85.40,167.7 85.70,179.3 86.00,175.6 86.30,166.0 86.60,167.8 86.90,157.8 87.20,165.0 87.50,168.1 87.80,158.8 88.10,165.8 88.40,165.5 88.70,161.8 89.00,147.0 89.30,163.2 89.60,166.6 89.90,160.6 90.20,170.3 90.50,170.9 90.80,167.8 91.10,166.7 91.40,166.6 91.70,151.9 92.00,180.8 92.30,167.9 92.60,176.3 92.90,185.4 93.20,169.0 93.50,185.7 93.80,187.4 94.10,179.2 94.40,178.9 94.70,193.8 95.00,175.4 95.30,187.7 95.60,182.1 95.90,171.4 96.20,188.6 96.50,177.5 96.80,167.0 97.10,164.4 97.40,166.3 97.70,172.8 98.00,175.2 98.30,188.2 98.60,170.1 98.90,180.7 99.20,176.4 99.50,183.8 99.80,183.8 100.10,180.1 100.40,181.5 100.70,183.6 101.00,181.2 101.30,197.7 101.60,184.1 101.90,189.6 102.20,174.2 102.50,182.9 102.80,167.3 103.10,182.2 103.40,167.7 103.70,182.1 104.00,172.4 104.30,165.8 104.60,176.6 104.90,174.7 105.20,175.1 105.50,169.4 105.80,167.5 106.10,169.6 106.40,166.2 106.70,168.7 107.00,169.4 107.30,177.4 107.60,179.2 107.90,162.5 108.20,172.8 108.50,157.6 108.80,178.1 109.10,154.4 109.40,169.6 109.70,151.6 110.00,150.5 110.30,177.2 110.60,152.1 110.90,166.1 111.20,167.7 111.50,163.2 111.80,158.5 112.10,158.3 112.40,166.1 112.70,167.8 113.00,162.4 113.30,182.9 113.60,170.2 113.90,173.2 114.20,167.0 114.50,159.4 114.80,175.1 115.10,165.5 115.40,162.2 115.70,161.8 116.00,163.8 116.30,179.0 116.60,162.2 116.90,177.4 117.20,167.7 117.50,157.6 117.80,167.9 118.10,182.4 118.40,170.3 118.70,174.9 119.00,162.3 119.30,172.5 119.60,168.6 119.90,178.1 120.20,165.8 120.50,181.3 120.80,162.7 121.10,162.3 121.40,165.7 121.70,170.6 122.00,164.2 122.30,178.8 122.60,173.2 122.90,164.7 123.20,179.8 123.50,193.1 123.80,167.0 124.10,179.2 124.40,161.6 124.70,180.1 125.00,172.1 125.30,172.3 125.60,174.6 125.90,172.2 126.20,182.6 126.50,173.9 126.80,179.6 127.10,175.1 127.40,173.3 127.70,160.8 128.00,159.4 128.30,161.5 128.60,172.0 128.90,176.2 129.20,165.5 129.50,166.1 129.80,157.8 130.10,163.8 130.40,161.9 130.70,165.6 131.00,160.1 131.30,168.0 131.60,172.5 131.90,173.0 132.20,179.5 132.50,173.5 132.80,177.3 133.10,182.3 133.40,177.6 133.70,164.4 134.00,169.9 134.30,173.0 134.60,168.9 134.90,182.0 135.20,167.4 135.50,203.3 135.80,175.3 136.10,156.1 136.40,175.2 136.70,181.6 137.00,165.6 137.30,175.0 137.60,171.2 137.90,161.3 138.20,180.5 138.50,174.0 138.80,170.9 139.10,184.7 139.40,176.2 139.70,164.6 140.00,173.1 140.30,178.0 140.60,178.8 140.90,184.0 141.20,171.7 141.50,183.7 141.80,185.6 142.10,196.6 142.40,189.6 142.70,187.8 143.00,182.6 143.30,174.1 143.60,181.7 143.90,181.7 144.20,178.9 144.50,179.5 144.80,185.1 145.10,178.2 145.40,173.1 145.70,178.8 146.00,174.8 146.30,191.1 146.60,177.3 146.90,180.9 147.20,181.8 147.50,180.9 147.80,172.2 148.10,176.3 148.40,174.1 148.70,180.0 149.00,166.8 149.30,167.5 149.60,173.1 149.90,158.1 150.20,155.3 150.50,158.9 150.80,167.0 151.10,161.9 151.40,155.4 151.70,163.6 152.00,157.8 152.30,163.7 152.60,171.9 152.90,148.8 153.20,151.7 153.50,161.0 153.80,169.6 154.10,174.4 154.40,172.9 154.70,174.0 155.00,163.0 155.30,176.3 155.60,175.3 155.90,180.2 156.20,170.7 156.50,160.8 156.80,180.6 157.10,173.4 157.40,184.0 157.70,170.6 158.00,179.4 158.30,182.4 158.60,177.9 158.90,183.0 159.20,180.0 159.50,172.4 159.80,178.3 160.10,194.3 160.40,169.4 160.70,164.4 161.00,176.0 161.30,167.0 161.60,169.0 161.90,179.3 162.20,164.8 162.50,180.1 162.80,168.8 163.10,166.6 163.40,178.6 163.70,155.5 164.00,147.9 164.30,171.8 164.60,181.9 164.90,171.3 165.20,174.9 165.50,176.5 165.80,182.2 166.10,172.9 166.40,173.9 166.70,176.1 167.00,183.5 167.30,189.5 167.60,175.0 167.90,192.0 168.20,176.5 168.50,177.1 168.80,177.7 169.10,175.4 169.40,179.9 169.70,190.1 170.00,186.1 170.30,186.6 170.60,180.0 170.90,186.1 171.20,180.9 171.50,179.8 171.80,180.8 172.10,173.2 172.40,189.8 172.70,174.0 173.00,157.0 173.30,173.0 173.60,159.6 173.90,186.7 174.20,175.5 174.50,171.1 174.80,176.4 175.10,163.5 175.40,158.5 175.70,192.1 176.00,175.2 176.30,168.6 176.60,168.3 176.90,183.7 177.20,182.7 177.50,182.2 177.80,181.8 178.10,170.6 178.40,176.6 178.70,167.6 179.00,175.9 179.30,168.9 179.60,176.1 179.90,180.1 180.20,173.0 180.50,163.2 180.80,170.7 181.10,177.7 181.40,178.1 181.70,161.2 182.00,173.4 182.30,170.3 182.60,179.5 182.90,180.8 183.20,187.3 183.50,168.8 183.80,170.2 184.10,158.8 184.40,157.4 184.70,171.6 185.00,180.2 185.30,164.1 185.60,157.6 185.90,166.7 186.20,161.4 186.50,164.6 186.80,160.8 187.10,163.3 187.40,171.5 187.70,160.0 188.00,165.0 188.30,160.5 188.60,162.8 188.90,171.9 189.20,165.1 189.50,162.7 189.80,172.7 190.10,158.0 190.40,166.2 190.70,165.3 191.00,164.7 191.30,173.9 191.60,166.0 191.90,164.5 192.20,181.7 192.50,174.6 192.80,169.4 193.10,172.6 193.40,177.6 193.70,181.1 194.00,184.1 194.30,169.2 194.60,183.9 194.90,183.7 195.20,185.3 195.50,172.1 195.80,178.4 196.10,189.9 196.40,183.3 196.70,162.8 197.00,175.1 197.30,188.1 197.60,173.7 197.90,175.0 198.20,159.4 198.50,182.3 198.80,167.3 199.10,173.1 199.40,166.4 199.70,175.3 200.00,180.6 200.30,161.0 200.60,173.1 200.90,179.2 201.20,176.2 201.50,172.0 201.80,170.5 202.10,162.2 202.40,173.9 202.70,167.8 203.00,176.6 203.30,168.5 203.60,156.9 203.90,181.1 204.20,180.6 204.50,168.4 204.80,177.1 205.10,183.0 205.40,169.9 205.70,170.6 206.00,158.1 206.30,172.4 206.60,166.7 206.90,177.1 207.20,164.7 207.50,164.0 207.80,174.2 208.10,165.7 208.40,159.0 208.70,180.1 209.00,160.5 209.30,177.1 209.60,169.2 209.90,170.4 210.20,171.9 210.50,177.2 210.80,178.2 211.10,173.5 211.40,163.9 211.70,165.2 212.00,171.2 212.30,174.1 212.60,174.4 212.90,172.6 213.20,164.7 213.50,159.2 213.80,159.3 214.10,164.1 214.40,163.5 214.70,163.1 215.00,180.4 215.30,167.7 215.60,176.6 215.90,162.2 216.20,167.0 216.50,163.3 216.80,171.2 217.10,161.6 217.40,165.2 217.70,150.5 218.00,173.8 218.30,165.9 218.60,172.4 218.90,172.9 219.20,159.9 219.50,173.8 219.80,174.1 220.10,164.7 220.40,175.8 220.70,172.8 221.00,182.1 221.30,186.0 221.60,173.1 221.90,178.5 222.20,186.0 222.50,188.5 222.80,183.7 223.10,177.1 223.40,192.0 223.70,186.6 224.00,193.0 224.30,165.6 224.60,177.5 224.90,176.6 225.20,180.3 225.50,167.0 225.80,183.0 226.10,169.3 226.40,166.9 226.70,167.1 227.00,165.6 227.30,166.1 227.60,166.3 227.90,169.2 228.20,161.8 228.50,172.1 228.80,183.1 229.10,155.7 229.40,175.4 229.70,180.4 230.00,159.3 230.30,170.6 230.60,169.2 230.90,170.7 231.20,166.3 231.50,161.4 231.80,161.8 232.10,159.3 232.40,175.0 232.70,165.6 233.00,156.3 233.30,167.7 233.60,164.6 233.90,163.2 234.20,176.5 234.50,167.9 234.80,171.7 235.10,164.2 235.40,165.3 235.70,170.9 236.00,169.0 236.30,176.0 236.60,182.5 236.90,172.4 237.20,163.0 237.50,174.2 237.80,166.5 238.10,169.2 238.40,162.3 238.70,172.7 239.00,158.1 239.30,171.3 239.60,163.9 239.90,183.0 240.20,165.9 240.50,165.1 240.80,165.2 241.10,175.0 241.40,162.0 241.70,161.4 242.00,167.2 242.30,174.4 242.60,158.4 242.90,153.6 243.20,169.5 243.50,158.7 243.80,154.0 244.10,177.8 244.40,175.7 244.70,154.4 245.00,170.0 245.30,163.3 245.60,163.9 245.90,171.3 246.20,154.2 246.50,165.2 246.80,155.9 247.10,179.8 247.40,172.4 247.70,174.9 248.00,171.7 248.30,178.8 248.60,171.9 248.90,170.0 249.20,170.7 249.50,168.2 249.80,170.4 250.10,170.9 250.40,162.1 250.70,164.7 251.00,167.6 251.30,167.5 251.60,164.7 251.90,148.7 252.20,160.9 252.50,166.9 252.80,154.9 253.10,175.4 253.40,174.7 253.70,164.8 254.00,177.3 254.30,160.2 254.60,177.5 254.90,170.7 255.20,191.0 255.50,166.9 255.80,171.0 256.10,171.8 256.40,150.9 256.70,160.2 257.00,154.5 257.30,157.5 257.60,173.7 257.90,159.6 258.20,154.8 258.50,155.9 258.80,163.4 259.10,170.1 259.40,162.3 259.70,168.6 260.00,164.0 260.30,155.8 260.60,160.4 260.90,170.2 261.20,164.1 261.50,164.6 261.80,177.3 262.10,188.3 262.40,157.6 262.70,163.6 263.00,161.4 263.30,167.4 263.60,171.1 263.90,166.1 264.20,166.9 264.50,165.9 264.80,172.4 265.10,173.1 265.40,170.7 265.70,184.5 266.00,178.6 266.30,177.1 266.60,184.5 266.90,172.7 267.20,172.4 267.50,167.1 267.80,173.6 268.10,177.1 268.40,168.4 268.70,162.5 269.00,154.0 269.30,166.8 269.60,165.9 269.90,141.0 270.20,170.1 270.50,167.0 270.80,180.1 271.10,172.6 271.40,167.2 271.70,161.0 272.00,169.3 272.30,157.9 272.60,159.5 272.90,167.7 273.20,161.7 273.50,178.8 273.80,173.0 274.10,186.3 274.40,174.1 274.70,167.7 275.00,159.9 275.30,153.8 275.60,169.8 275.90,168.6 276.20,160.5 276.50,162.6 276.80,175.9 277.10,161.6 277.40,168.0 277.70,152.8 278.00,166.4 278.30,160.5 278.60,173.8 278.90,168.2 279.20,181.2 279.50,167.8 279.80,174.5 280.10,165.4 280.40,167.7 280.70,161.5 281.00,179.4 281.30,167.4 281.60,172.7 281.90,156.9 282.20,163.3 282.50,172.1 282.80,175.8 283.10,160.0 283.40,174.9 283.70,165.6 284.00,155.4 284.30,173.1 284.60,172.4 284.90,168.3 285.20,159.1 285.50,172.9 285.80,175.7 286.10,174.6 286.40,168.8 286.70,172.3 287.00,164.6 287.30,169.1 287.60,181.6 287.90,179.1 288.20,172.9 288.50,176.6 288.80,177.2 289.10,181.4 289.40,184.7 289.70,183.8 290.00,176.4 290.30,188.9 290.60,175.4 290.90,165.2 291.20,174.3 291.50,172.1 291.80,172.5 292.10,187.2 292.40,160.7 292.70,177.1 293.00,172.8 293.30,184.9 293.60,169.7 293.90,177.4 294.20,167.8 294.50,166.9 294.80,185.5 295.10,169.6 295.40,167.6 295.70,166.0 296.00,170.3 296.30,151.9 296.60,164.0 296.90,145.3 297.20,166.6 297.50,159.3 297.80,173.4 298.10,167.2 298.40,167.6 298.70,153.2 299.00,167.5 299.30,164.7 299.60,172.0 299.90,170.5 300.20,174.2 300.50,176.3 300.80,184.6 301.10,170.9 301.40,168.5 301.70,183.7 302.00,184.5 302.30,187.2 302.60,179.1 302.90,179.7 303.20,175.4 303.50,182.1 303.80,183.7 304.10,186.5 304.40,167.1 304.70,167.8 305.00,160.6 305.30,178.6 305.60,180.7 305.90,177.4 306.20,170.9 306.50,181.0 306.80,169.0 307.10,184.8 307.40,172.0 307.70,178.5 308.00,174.8 308.30,173.3 308.60,181.5 308.90,188.0 309.20,184.8 309.50,168.1 309.80,194.2 310.10,179.3 310.40,180.1 310.70,186.2 311.00,183.5 311.30,183.9 311.60,171.6 311.90,171.6 312.20,169.0 312.50,170.2 312.80,173.1 313.10,184.3 313.40,181.4 313.70,179.1 314.00,167.1 314.30,174.8 314.60,179.6 314.90,175.4 315.20,171.0 315.50,173.3 315.80,178.1 316.10,179.2 316.40,169.9 316.70,173.0 317.00,174.6 317.30,160.0 317.60,165.0 317.90,171.7 318.20,169.9 318.50,169.6 318.80,165.4 319.10,174.9 319.40,175.1 319.70,168.1 320.00,165.9 320.30,161.9 320.60,164.4 320.90,166.8 321.20,158.3 321.50,181.7 321.80,166.2 322.10,167.6 322.40,168.2 322.70,163.1 323.00,168.7 323.30,165.1 323.60,158.7 323.90,157.9 324.20,164.3 324.50,168.8 324.80,163.0 325.10,172.0 325.40,164.1 325.70,173.9 326.00,181.7 326.30,170.6 326.60,181.9 326.90,162.9 327.20,164.5 327.50,168.2 327.80,167.5 328.10,156.1 328.40,151.7 328.70,174.3 329.00,175.4 329.30,166.1 329.60,175.3 329.90,171.0 330.20,170.7 330.50,166.2 330.80,184.6 331.10,163.9 331.40,175.0 331.70,167.1 332.00,175.9 332.30,178.7 332.60,172.0 332.90,160.4 333.20,172.7 333.50,168.5 333.80,179.8 334.10,161.2 334.40,162.7 334.70,160.9 335.00,156.2 335.30,171.5 335.60,164.2 335.90,180.0 336.20,171.3 336.50,175.1 336.80,179.0 337.10,183.9 337.40,175.9 337.70,165.5 338.00,181.7 338.30,165.1 338.60,160.5 338.90,168.5 339.20,169.3 339.50,182.3 339.80,162.7 340.10,164.0 340.40,156.2 340.70,157.6 341.00,179.1 341.30,161.3 341.60,158.3 341.90,166.9 342.20,162.6 342.50,164.7 342.80,163.8 343.10,166.5 343.40,173.3 343.70,164.9 344.00,169.5 344.30,167.0 344.60,173.1 344.90,169.1 345.20,180.2 345.50,181.2 345.80,190.8 346.10,178.5 346.40,178.1 346.70,169.8 347.00,175.4 347.30,170.2 347.60,177.5 347.90,170.2 348.20,161.4 348.50,175.1 348.80,175.8 349.10,166.1 349.40,166.4 349.70,154.7 350.00,161.0 350.30,162.9 350.60,174.9 350.90,163.8 351.20,173.9 351.50,166.5 351.80,168.4 352.10,161.1 352.40,171.5 352.70,181.7 353.00,168.3 353.30,182.9 353.60,162.3 353.90,177.8 354.20,174.8 354.50,182.7 354.80,159.7 355.10,181.8 355.40,172.9 355.70,174.5 356.00,185.9 356.30,174.0 356.60,182.3 356.90,164.5 357.20,188.8 357.50,172.6 357.80,170.0 358.10,167.5 358.40,170.5 358.70,170.1 359.00,157.3 359.30,171.2 359.60,174.4 359.90,162.7 360.20,162.8 360.50,173.0 360.80,164.4 361.10,167.3 361.40,180.2 361.70,183.0 362.00,165.9 362.30,171.6 362.60,185.0 362.90,171.6 363.20,175.0 363.50,191.2 363.80,170.7 364.10,174.7 364.40,177.8 364.70,173.1 365.00,177.6 365.30,163.7 365.60,179.1 365.90,176.3 366.20,167.7 366.50,180.2 366.80,160.7 367.10,176.0 367.40,163.1 367.70,174.0 368.00,180.9 368.30,173.5 368.60,176.1 368.90,173.0 369.20,179.0 369.50,181.1 369.80,169.1 370.10,186.5 370.40,164.0 370.70,171.9 371.00,173.0 371.30,171.7 371.60,176.7 371.90,166.1 372.20,166.4 372.50,166.0 372.80,173.5 373.10,172.5 373.40,171.2 373.70,176.2 374.00,172.8 374.30,170.1 374.60,181.9 374.90,176.5 375.20,167.9 375.50,169.3 375.80,165.1 376.10,146.0 376.40,174.8 376.70,162.3 377.00,173.4 377.30,181.5 377.60,158.7 377.90,178.8 378.20,171.9 378.50,165.2 378.80,161.7 379.10,181.6 379.40,174.4 379.70,169.9 380.00,189.0 380.30,176.1 380.60,190.3 380.90,187.7 381.20,181.1 381.50,180.8 381.80,187.5 382.10,176.9 382.40,183.8 382.50,232.8 382.80,235.3 383.10,232.9 383.40,223.5 383.70,231.4 384.00,234.5 384.30,233.4 384.60,227.0 384.90,242.8 385.20,236.4 385.50,217.9 385.80,215.0 386.10,225.5 386.40,234.5 386.70,216.3 387.00,218.1 387.30,228.1 387.60,228.1 387.90,232.0 388.20,237.6 388.50,239.8 388.80,246.7 389.10,229.0 389.40,227.9 389.70,231.6 390.00,237.3 390.30,234.9 390.60,228.6 390.90,227.1 391.20,248.6 391.50,232.7 391.80,222.4 392.10,232.8 392.40,218.1 392.70,224.1 393.00,241.5 393.30,237.4 393.60,244.3 393.90,244.8 394.20,229.0 394.50,233.0 394.80,232.7 395.10,236.9 395.40,238.3 395.70,244.9 396.00,243.8 396.30,238.4 396.60,245.6 396.90,242.1 397.20,234.7 397.50,245.5 397.80,243.8 398.10,243.0 398.40,222.0 398.70,230.7 399.00,231.2 399.30,232.3 399.60,240.4 399.90,234.6 400.20,225.8 400.50,225.2 400.80,227.3 401.10,230.6 401.40,227.1 401.70,233.9 402.00,225.2 402.30,234.7 402.60,204.0 402.90,220.2 403.20,242.3 403.50,228.1 403.80,239.1 404.10,233.6 404.40,234.4 404.70,224.5 405.00,233.6 405.30,228.4 405.60,227.8 405.90,242.2 406.20,236.8 406.50,238.4 406.80,235.3 407.10,246.9 407.40,250.9 407.70,260.1 408.00,242.4 408.30,230.6 408.60,237.3 408.90,226.1 409.20,243.9 409.50,236.0 409.80,234.3 410.10,242.7 410.40,242.6 410.70,225.9 411.00,236.6 411.30,234.9 411.60,243.5 411.90,244.7 412.20,239.9 412.50,239.3 412.80,233.8 413.10,240.7 413.40,239.6 413.70,241.5 414.00,244.2 414.30,252.3 414.60,241.3 414.90,243.0 415.20,250.6 415.50,240.9 415.80,244.6 416.10,249.9 416.40,247.6 416.70,232.9 417.00,231.3 417.30,244.4 417.60,238.7 417.90,243.1 418.20,243.0 418.50,234.0 418.80,237.1 419.10,225.4 419.40,233.8 419.70,233.7 420.00,229.9 420.30,233.8 420.60,224.7 420.90,228.0 421.20,235.8 421.50,238.5 421.80,237.5 422.10,231.4 422.40,236.5 422.70,239.5 423.00,240.9 423.30,212.6 423.60,230.0 423.90,238.1 424.20,241.9 424.50,237.9 424.80,241.5 425.10,227.3 425.40,233.8 425.70,237.8 426.00,244.4 426.30,232.6 426.60,229.2 426.90,230.3 427.20,237.3 427.50,245.2 427.80,234.6 428.10,240.7 428.40,248.6 428.70,230.2 429.00,249.0 429.30,238.9 429.60,236.0 429.90,239.5 430.20,245.1 430.50,228.4 430.80,242.5 431.10,237.0 431.40,240.9 431.70,233.3 432.00,238.6 432.30,231.8 432.60,233.7 432.90,241.4 433.20,236.5 433.50,240.2 433.80,220.6 434.10,243.9 434.40,235.9 434.70,233.3 435.00,232.3 435.30,229.2 435.60,236.4 435.90,237.9 436.20,231.7 436.50,234.8 436.80,233.0 437.10,235.1 437.40,238.4 437.70,237.5 438.00,227.5 438.30,231.6 438.60,233.5 438.90,217.2 439.20,223.8 439.50,235.0 439.80,228.0 440.10,234.4 440.40,228.0 440.70,243.2 441.00,240.0 441.30,235.9 441.60,229.2 441.90,237.5 442.20,239.3 442.50,242.4 442.80,234.5 443.10,240.5 443.40,238.6 443.70,235.6 444.00,251.8 444.30,233.0 444.60,239.2 444.90,226.5 445.20,238.1 445.50,239.1 445.80,236.0 446.10,232.5 446.40,241.7 446.70,236.2 447.00,235.8 447.30,241.0 447.60,237.5 447.90,227.1 448.20,235.7 448.50,232.5 448.80,243.3 449.10,236.1 449.40,244.6 449.70,235.7 450.00,237.9 450.30,238.2 450.60,235.9 450.90,250.2 451.20,235.3 451.50,231.5 451.80,243.8 452.10,252.6 452.40,246.1 452.70,250.1 453.00,236.6 453.30,242.7 453.60,237.4 453.90,236.4 454.20,239.0 454.50,245.7 454.80,234.7 455.10,239.2 455.40,246.6 455.70,240.8 456.00,242.5 456.30,237.6 456.60,233.2 456.90,231.0 457.20,242.9 457.50,226.7 457.80,230.9 458.10,242.9 458.40,235.4 458.70,245.6 459.00,247.1 459.30,234.2 459.60,247.2 459.90,239.5 460.20,230.8 460.50,238.4 460.80,247.5 461.10,252.3 461.40,234.1 461.70,233.8 462.00,242.7 462.30,236.1 462.60,239.0 462.90,245.5 463.20,229.7 463.50,226.5 463.80,235.4 464.10,241.1 464.40,239.9 464.70,243.8 465.00,246.7 465.30,252.4 465.60,245.3 465.90,237.5 466.20,239.1 466.50,238.2 466.80,226.2 467.10,232.4 467.40,233.6 467.70,236.3 468.00,233.4 468.30,233.7 468.60,238.0 468.90,237.8 469.20,239.4 469.50,233.9 469.80,235.3 470.10,240.9 470.40,230.6 470.70,229.8 471.00,230.8 471.30,226.3 471.60,233.0 471.90,226.7 472.20,221.1 472.50,232.4 472.80,238.1 473.10,228.3 473.40,241.9 473.70,230.4 474.00,241.3 474.30,247.0 474.60,227.4 474.90,238.0 475.20,221.4 475.50,224.7 475.80,243.2 476.10,234.2 476.40,237.8 476.70,230.8 477.00,231.8 477.30,221.4 477.60,239.8 477.90,240.6 478.20,242.1 478.50,232.9 478.80,236.4 479.10,231.9 479.40,229.5 479.70,242.5 480.00,245.0 480.30,242.0 480.60,236.2 480.90,251.4 481.20,245.6 481.50,235.9 481.80,242.9 482.10,244.6 482.40,237.9 482.70,238.1 483.00,248.8 483.30,244.3 483.60,243.3 483.90,238.6 484.20,232.1 484.50,231.7 484.80,228.3 485.10,228.6 485.40,233.7 485.70,221.6 486.00,226.6 486.30,225.6 486.60,240.1 486.90,222.7 487.20,243.4 487.50,223.9 487.80,228.5 488.10,217.2 488.40,226.6 488.70,225.8 489.00,230.9 489.30,224.5 489.60,229.0 489.90,224.9 490.20,227.6 490.50,224.6 490.80,233.0 491.10,219.0 491.40,225.1 491.70,219.8 492.00,219.2 492.30,221.8 492.60,218.5 492.90,221.1 493.20,218.6 493.50,228.8 493.80,219.4 494.10,230.3 494.40,224.2 494.70,219.5 495.00,226.8 495.30,223.2 495.60,227.8 495.90,225.9 496.20,227.5 496.50,233.8 496.80,221.5 497.10,220.5 497.40,216.0 497.70,233.0 498.00,232.7 498.30,226.4 498.60,230.5 498.90,224.5 499.20,234.1 499.50,231.1 499.80,230.3 500.10,239.0 500.40,244.8 500.70,239.0 501.00,238.6 501.30,238.6 501.60,233.4 501.90,238.6 502.20,238.0 502.50,235.5 502.80,228.1 503.10,238.2 503.40,235.4 503.70,232.6 504.00,227.1 504.30,234.9 504.60,232.5 504.90,234.4 505.20,227.9 505.50,228.5 505.80,233.0 506.10,242.1 506.40,232.2 506.70,232.1 507.00,230.3 507.30,238.8 507.60,236.5 507.90,234.3 508.20,237.1 508.50,231.0 508.80,223.3 509.10,225.4 509.40,225.5 509.70,223.8 510.00,224.9 510.30,224.6 510.60,229.7 510.90,208.8 511.20,231.8 511.50,237.8 511.80,223.4 512.10,219.1 512.40,225.6 512.70,220.0 513.00,217.6 513.30,220.1 513.60,215.1 513.90,207.9 514.20,218.8 514.50,221.0 514.80,230.6 515.10,236.3 515.40,225.6 515.70,241.8 516.00,233.6 516.30,225.6 516.60,236.9 516.90,235.7 517.20,233.5 517.50,229.4 517.80,231.7 518.10,243.4 518.40,246.1 518.70,235.3 519.00,227.3 519.30,228.8 519.60,244.0 519.90,236.0 520.20,244.8 520.50,236.6 520.80,240.2 521.10,236.3 521.40,234.1 521.70,228.6 522.00,241.1 522.30,230.8 522.60,232.9 522.90,225.2 523.20,221.7 523.50,229.5 523.80,233.8 524.10,244.6 524.40,236.7 524.70,219.2 525.00,227.6 525.30,224.7 525.60,226.1 525.90,231.4 526.20,220.3 526.50,227.0 526.80,231.7 527.10,236.4 527.40,227.9 527.70,231.9 528.00,235.4 528.30,244.7 528.60,242.7 528.90,236.1 529.20,234.6 529.50,244.2 529.80,241.2 530.10,239.5 530.40,232.4 530.70,236.2 531.00,234.0 531.30,226.8 531.60,239.3 531.90,253.7 532.20,237.8 532.50,245.1 532.80,235.0 533.10,243.4 533.40,245.7 533.70,235.6 534.00,235.6 534.30,236.6 534.60,238.2 534.90,252.3 535.20,232.3 535.50,229.0 535.80,231.9 536.10,239.8 536.40,235.9 536.70,224.2 537.00,224.1 537.30,221.0 537.60,225.4 537.90,224.6 538.20,221.7 538.50,224.3 538.80,220.4 539.10,233.7 539.40,229.1 539.70,220.9 540.00,216.2 540.30,218.4 540.60,237.2 540.90,224.0 541.20,240.9 541.50,233.3 541.80,228.0 542.10,233.3 542.40,231.4 542.70,239.0 543.00,224.4 543.30,239.4 543.60,228.0 543.90,227.7 544.20,235.2 544.50,236.3 544.80,222.8 545.10,221.6 545.40,226.5 545.70,233.6 546.00,227.4 546.30,218.3 546.60,246.2 546.90,241.3 547.20,234.9 547.50,239.4 547.80,239.6 548.10,236.2 548.40,242.8 548.70,226.4 549.00,235.3 549.30,240.2 549.60,240.6 549.90,232.7 550.20,237.4 550.50,239.0 550.80,236.2 551.10,231.4 551.40,233.3 551.70,241.0 552.00,229.0 552.30,236.3 552.60,237.8 552.90,243.3 553.20,246.0 553.50,237.4 553.80,244.3 554.10,240.0 554.40,236.6 554.70,228.7 555.00,242.9 555.30,233.3 555.60,236.1 555.90,239.1 556.20,238.4 556.50,231.1 556.80,234.9 557.10,222.6 557.40,235.5 557.70,236.8 558.00,236.3 558.30,243.5 558.60,245.6 558.90,241.3 559.20,245.7 559.50,244.2 559.80,238.4 560.10,236.0 560.40,226.6 560.70,233.0 561.00,236.1 561.30,234.1 561.60,232.8 561.90,236.7 562.20,241.0 562.50,224.1 562.80,230.6 563.10,229.4 563.40,230.3 563.70,246.7 564.00,241.4 564.30,228.9 564.60,236.4 564.90,238.4 565.20,246.5 565.50,232.5 565.80,236.6 566.10,240.0 566.40,233.3 566.70,238.2 567.00,233.7 567.30,226.3 567.60,237.1 567.90,230.5 568.20,229.2 568.50,232.1 568.80,234.6 569.10,216.1 569.40,237.9 569.70,222.6 570.00,233.7 570.30,234.0 570.60,229.3 570.90,217.4 571.20,240.3 571.50,229.5 571.80,227.2 572.10,225.7 572.40,234.4 572.70,231.5 573.00,231.7 573.30,234.5 573.60,248.7 573.90,226.1 574.20,237.1 574.50,238.5 574.80,236.5 575.10,240.7 575.40,239.4 575.70,244.2 576.00,240.4 576.30,241.9 576.60,236.7 576.90,230.9 577.20,236.4 577.50,231.4 577.80,231.2 578.10,236.1 578.40,227.0 578.70,222.5 579.00,231.7 579.30,230.8 579.60,221.2 579.90,229.1 580.20,219.9 580.50,228.6 580.80,224.5 581.10,227.3 581.40,237.5 581.70,237.2 582.00,235.2 582.30,224.4 582.60,238.2 582.90,238.9 583.20,235.7 583.50,228.1 583.80,238.9 584.10,230.2 584.40,250.3 584.70,240.3 585.00,234.5 585.30,231.5 585.60,234.2 585.90,229.9 586.20,226.3 586.50,238.6 586.80,225.7 587.10,224.4 587.40,236.1 587.70,227.9 588.00,236.2 588.30,229.7 588.60,232.0 588.90,220.2 589.20,234.8 589.50,248.7 589.80,249.2 590.10,242.7 590.40,242.5 590.70,246.4 591.00,235.3 591.30,253.4 591.60,243.9 591.90,233.0 592.20,233.2 592.50,229.8 592.80,232.5 593.10,231.7 593.40,235.6 593.70,231.9 594.00,230.1 594.30,229.4 594.60,227.7 594.90,230.6 595.20,226.1 595.50,221.6 595.80,237.1 596.10,243.6 596.40,232.3 596.70,242.0 597.00,237.9 597.30,251.3 597.60,240.1 597.90,246.6 598.20,227.1 598.50,234.2 598.80,236.4 599.10,224.5 599.40,246.3 599.70,224.4 600.00,232.8 600.30,239.1 600.60,242.5 600.90,228.2 601.20,234.5 601.50,234.3 601.80,216.7 602.10,239.0 602.40,223.2 602.70,234.2 603.00,238.9 603.30,238.7 603.60,238.0 603.90,233.3 604.20,232.0 604.50,235.3 604.80,233.0 605.10,238.4 605.40,229.3 605.70,235.2 606.00,239.2 606.30,236.0 606.60,228.2 606.90,235.3 607.20,232.9 607.50,233.4 607.80,229.8 608.10,241.9 608.40,244.0 608.70,234.3 609.00,235.5 609.30,236.9 609.60,238.0 609.90,231.1 610.20,237.6 610.50,240.6 610.80,241.7 611.10,240.0 611.40,236.8 611.70,245.8 612.00,242.1 612.30,239.5 612.60,244.6 612.90,237.1 613.20,239.5 613.50,227.7 613.80,220.1 614.10,222.4 614.40,228.7 614.70,227.0 615.00,236.8 615.30,224.1 615.60,219.8 615.90,235.4 616.20,226.7 616.50,231.0 616.80,237.9 617.10,235.4 617.40,222.7 617.70,236.2 618.00,230.1 618.30,238.0 618.60,227.3 618.90,229.2 619.20,224.1 619.50,232.0 619.80,238.7 620.10,225.2 620.40,226.3 620.70,241.5 621.00,229.3 621.30,241.3 621.60,234.1 621.90,229.6 622.20,230.8 622.50,233.6 622.80,228.4 623.10,241.6 623.40,231.6 623.70,238.8 624.00,242.9 624.30,230.3 624.60,231.9 624.90,233.4 625.20,230.5 625.50,239.2 625.80,234.8 626.10,241.6 626.40,234.5 626.70,231.9 627.00,228.4 627.30,240.4 627.60,237.0 627.90,224.1 628.20,226.7 628.50,223.6 628.80,231.9 629.10,250.0 629.40,243.5 629.70,240.8 630.00,234.9 630.30,240.7 630.60,235.0 630.90,234.8 631.20,235.3 631.50,247.3 631.80,235.6 632.10,240.8 632.40,233.9 632.70,250.9 633.00,232.7 633.30,239.2 633.60,229.1 633.90,238.8 634.20,232.4 634.50,233.8 634.80,227.9 635.10,227.8 635.40,236.5 635.70,238.3 636.00,239.3 636.30,227.6 636.60,223.8 636.90,216.7 637.20,235.1 637.50,230.7 637.80,226.5 638.10,225.3 638.40,233.7 638.70,234.3 639.00,218.3 639.30,235.4 639.60,238.2 639.90,236.3 640.20,212.4 640.50,217.6 640.80,222.3 641.10,219.6 641.40,221.9 641.70,236.0 642.00,231.5 642.30,216.7 642.60,229.6 642.90,229.7 643.20,222.1 643.50,230.6 643.80,223.8 644.10,219.3 644.40,211.8 644.70,221.2 645.00,219.5 645.30,223.9 645.60,229.7 645.90,214.3 646.20,224.0 646.50,212.1 646.80,221.7 647.10,226.9 647.40,228.7 647.70,234.6 648.00,230.4 648.30,226.2 648.60,228.1 648.90,238.7 649.20,238.0 649.50,226.5 649.80,236.1 650.10,231.2 650.40,243.0 650.70,235.6 651.00,243.3 651.30,230.4 651.60,239.4 651.90,240.4 652.20,238.5 652.50,230.5 652.80,226.2 653.10,235.5 653.40,243.8 653.70,228.3 654.00,229.2 654.30,242.3 654.60,235.4 654.90,227.9 655.20,233.0 655.50,236.2 655.80,235.2 656.10,234.4 656.40,234.9 656.70,233.8 657.00,232.3 657.30,231.6 657.60,234.9 657.90,241.1 658.20,234.0 658.50,230.6 658.80,240.8 659.10,238.0 659.40,236.8 659.70,238.9 660.00,231.9 660.30,231.7 660.60,221.6 660.90,233.1 661.20,224.4 661.50,236.9 661.80,228.2 662.10,221.5 662.40,225.4 662.70,252.5 663.00,231.6 663.30,229.2" fill="none" stroke="#2cf52c" stroke-width="1.35" stroke-linejoin="bevel"/>
<text transform="translate(24.40,51.50) scale(1.000,1)" x="0" y="0" font-family="Liberation Serif" font-size="32.67" font-weight="bold" font-style="italic" fill="#000" textLength="133.50" lengthAdjust="spacingAndGlyphs">100 V/<tspan font-size="30.38">div</tspan></text>
<text transform="translate(548.40,73.30) scale(1.000,1)" x="0" y="0" font-family="Liberation Serif" font-size="24.89" font-weight="bold" font-style="italic" fill="#000" textLength="107.40" lengthAdjust="spacingAndGlyphs">V<tspan font-size="23.14">o</tspan>=342 V</text>
<text transform="translate(49.80,146.00) scale(1.000,1)" x="0" y="0" font-family="Liberation Serif" font-size="24.58" font-weight="bold" font-style="italic" fill="#000" textLength="117.00" lengthAdjust="spacingAndGlyphs">I<tspan font-size="22.86">o</tspan>=720 <tspan font-size="22.86">m</tspan>A</text>
<text transform="translate(538.60,197.80) scale(1.000,1)" x="0" y="0" font-family="Liberation Serif" font-size="25.04" font-weight="bold" font-style="italic" fill="#000" textLength="118.20" lengthAdjust="spacingAndGlyphs">I<tspan font-size="23.29">o</tspan>=400 <tspan font-size="23.29">m</tspan>A</text>
<text transform="translate(28.80,344.50) scale(1.000,1)" x="0" y="0" font-family="Liberation Serif" font-size="31.76" font-weight="bold" font-style="italic" fill="#000" textLength="176.60" lengthAdjust="spacingAndGlyphs">200 A<tspan font-size="29.53">mp</tspan>/<tspan font-size="29.53">div</tspan></text>
<text transform="translate(284.90,354.00) scale(1.000,1)" x="0" y="0" font-family="Liberation Serif" font-size="32.06" font-weight="bold" font-style="italic" fill="#000" textLength="117.50" lengthAdjust="spacingAndGlyphs">5 <tspan font-size="29.82">sec</tspan>/<tspan font-size="29.82">div</tspan></text>
<text transform="translate(385.30,63.40) scale(0.900,1)" x="0" y="0" font-family="Liberation Serif" font-size="22.14" font-weight="normal" font-style="normal" fill="#ff0000" textLength="147.11" lengthAdjust="spacing">V<tspan font-size="21.03">oltage</tspan> <tspan font-size="21.03">changes</tspan></text>
<text transform="translate(220.50,230.20) scale(0.900,1)" x="0" y="0" font-family="Liberation Serif" font-size="22.44" font-weight="normal" font-style="normal" fill="#ff0000" textLength="142.78" lengthAdjust="spacing">C<tspan font-size="21.32">urrent</tspan> <tspan font-size="21.32">changes</tspan></text>
<text transform="translate(343.52,283.86) scale(1.181,1)" font-family="Liberation Serif" font-size="14.94" fill="#0c0c1c">&lt;</text>
<text transform="translate(356.40,283.50) scale(1.000,1)" x="0" y="0" font-family="Liberation Serif" font-size="16.39" font-weight="bold" font-style="italic" fill="#0c0c1c" textLength="22.50" lengthAdjust="spacingAndGlyphs">300</text>
<text transform="translate(381.60,283.50) scale(1.000,1)" x="0" y="0" font-family="Liberation Serif" font-size="15.11" font-weight="bold" font-style="italic" fill="#0c0c1c" textLength="28.50" lengthAdjust="spacingAndGlyphs">msec</text>
<ellipse cx="380.2" cy="203.7" rx="26.4" ry="57.5" fill="none" stroke="#f4a4a4" stroke-width="0.85"/>
<path d="M373.70,266.50 L394.00,266.50" stroke="#000" stroke-width="1.5"/>
<path d="M370.70,266.50 l6,-3.6 l0,7.2 Z M397.00,266.50 l-6,-3.6 l0,7.2 Z" fill="#000"/>
<path d="M384.50,55.40 L384.50,71.00" stroke="#f00" stroke-width="1.8"/>
<path d="M384.50,77.00 l-4.3,-9.2 l8.6,0 Z" fill="#f00"/>
<path d="M384.60,111.90 L384.60,129.70" stroke="#f00" stroke-width="1.8"/>
<path d="M384.60,105.90 l-4.3,8.8 l8.6,0 Z" fill="#f00"/>
<rect x="546.80" y="332.60" width="114.60" height="19.00" rx="2" fill="#fffdc6"/>
<rect x="548.80" y="337.60" width="11.50" height="12.00" rx="4" fill="#1010ff"/>
<rect x="553.75" y="339.60" width="1.6" height="8.00" fill="#d0d0ff"/>
<rect x="552.95" y="342.10" width="3.2" height="1.2" fill="#d0d0ff"/>
<text x="563.50" y="348.40" font-family="Liberation Sans" font-size="14.24" font-weight="normal" font-style="normal" fill="#4848f0" textLength="36.8" lengthAdjust="spacingAndGlyphs" >&lt; 10Hz</text>
<text x="23.80" y="396.80" font-family="Liberation Sans" font-size="14.83" font-weight="normal" font-style="normal" fill="#5a5ae8" textLength="23.6" lengthAdjust="spacingAndGlyphs" >CH1</text>
<rect x="47.40" y="389.32" width="12.60" height="1.3" fill="#5a5ae8"/>
<rect x="47.40" y="392.58" width="12.60" height="1.3" fill="#5a5ae8"/>
<text x="64.90" y="396.80" font-family="Liberation Sans" font-size="14.83" font-weight="normal" font-style="normal" fill="#5a5ae8" textLength="27.9" lengthAdjust="spacingAndGlyphs" >100V</text>
<text x="136.80" y="396.80" font-family="Liberation Sans" font-size="14.83" font-weight="normal" font-style="normal" fill="#78f078" textLength="24.7" lengthAdjust="spacingAndGlyphs" >CH2</text>
<rect x="161.50" y="389.32" width="12.50" height="1.3" fill="#78f078"/>
<rect x="161.50" y="392.58" width="12.50" height="1.3" fill="#78f078"/>
<text x="179.00" y="396.80" font-family="Liberation Sans" font-size="14.83" font-weight="normal" font-style="normal" fill="#78f078" textLength="43.0" lengthAdjust="spacingAndGlyphs" >200mA</text>
<text x="251.00" y="396.80" font-family="Liberation Sans" font-size="14.83" font-weight="normal" font-style="normal" fill="#626262" textLength="44.0" lengthAdjust="spacingAndGlyphs" >M5.00s</text>
<text x="319.70" y="396.80" font-family="Liberation Sans" font-size="14.83" font-weight="normal" font-style="normal" fill="#626262" textLength="68.6" lengthAdjust="spacingAndGlyphs" >MPos:5.30s</text>
<text transform="translate(270.30,441.80) scale(1.000,1)" x="0" y="0" font-family="Liberation Serif" font-size="37.56" font-weight="normal" font-style="normal" fill="#000" textLength="42.90" lengthAdjust="spacing">(a)</text>
<rect x="0" y="454.2" width="685" height="411.8" fill="#fffdc6"/>
<rect x="0" y="454.2" width="3.2" height="411.8" fill="#fffee6"/>
<rect x="72.3" y="458.2" width="54.3" height="16.3" fill="#00ffff"/>
<text x="86.40" y="470.80" font-family="Liberation Sans" font-size="13.66" font-weight="normal" font-style="normal" fill="#a8ffff" textLength="29.6" lengthAdjust="spacingAndGlyphs" >Stop</text>
<g transform="translate(147.90,457.50) scale(0.954,0.979) translate(-147.5,-2.6)">
<ellipse cx="154.2" cy="15.3" rx="8.6" ry="4.9" transform="rotate(-47 154.2 15.3)" fill="#ff70ff"/>
<path d="M148.3,21.6 L148.6,17.5 L152,19.8 Z" fill="#ff70ff"/>
<ellipse cx="154" cy="15.5" rx="6.4" ry="3.4" transform="rotate(-47 154 15.5)" fill="#ff00ff"/>
<rect x="159.9" y="4.3" width="5.6" height="5.6" rx="1.2" transform="rotate(45 162.7 7.1)" fill="#fffff0" stroke="#ff8cff" stroke-width="1.5"/>
</g>
<rect x="241.3" y="461.1" width="202.5" height="14.6" fill="#fff"/>
<polyline points="248.00,467.93 251.30,464.80 259.10,472.20 266.90,464.80 268.40,466.22" fill="none" stroke="#9a9a9a" stroke-width="0.90"/>
<polyline points="368.30,472.20 368.30,472.20 376.10,464.80 383.90,472.20 391.70,464.80 399.50,472.20 407.30,464.80 415.10,472.20 422.90,464.80 430.70,472.20 438.50,464.80 441.00,467.17" fill="none" stroke="#9a9a9a" stroke-width="0.90"/>
<rect x="268.40" y="463.40" width="99.90" height="10.30" fill="none" stroke="#a4a4a4" stroke-width="1.2"/>
<polyline points="269.20,466.98 274.70,472.20 282.50,464.80 290.30,472.20 298.10,464.80 305.90,472.20 313.70,464.80 321.50,472.20 329.30,464.80 337.10,472.20 344.90,464.80 352.70,472.20 360.50,464.80 367.50,471.44" fill="none" stroke="#6c6cff" stroke-width="1.30"/>
<line x1="247.40" y1="462.60" x2="247.40" y2="474.50" stroke="#a0a0a0" stroke-width="1.0"/>
<line x1="441.60" y1="462.60" x2="441.60" y2="474.50" stroke="#a0a0a0" stroke-width="1.0"/>
<rect x="352.4" y="453.9" width="3" height="4.1" fill="#40f0e0"/>
<g transform="translate(1.20,454.10) scale(1.000)">
<rect x="535" y="6.1" width="4.1" height="4.9" fill="#f4f4ee" stroke="#858585" stroke-width="1.9"/>
<rect x="536.6" y="10.8" width="2.4" height="3.4" fill="#8a8a8a"/>
<rect x="530" y="13.2" width="3.9" height="7.6" fill="#e8e8e0" stroke="#858585" stroke-width="1.9"/>
<rect x="530.9" y="14" width="2.1" height="2.2" fill="#8a8a98"/>
<rect x="538" y="12.6" width="9.4" height="8.8" fill="none" stroke="#e0a070" stroke-width="0.8" opacity="0.7"/>
<path d="M538.6,13.4 L546.8,21 M546.8,13.4 L538.6,21" stroke="#14e8f0" stroke-width="2.8"/>
<rect x="540.5" y="15" width="4.4" height="4.4" fill="#10f0f4"/>
</g>
<rect x="22.5" y="480" width="642.8" height="343" fill="#fff"/>
<line x1="29.93" y1="522.88" x2="665.30" y2="522.88" stroke="#cfcfcf" stroke-width="1.2" stroke-dasharray="1.2 6.835"/>
<line x1="29.93" y1="565.75" x2="665.30" y2="565.75" stroke="#cfcfcf" stroke-width="1.2" stroke-dasharray="1.2 6.835"/>
<line x1="29.93" y1="608.62" x2="665.30" y2="608.62" stroke="#cfcfcf" stroke-width="1.2" stroke-dasharray="1.2 6.835"/>
<line x1="29.93" y1="651.50" x2="665.30" y2="651.50" stroke="#bdbdbd" stroke-width="1.2" stroke-dasharray="1.2 6.835"/>
<line x1="29.93" y1="694.38" x2="665.30" y2="694.38" stroke="#cfcfcf" stroke-width="1.2" stroke-dasharray="1.2 6.835"/>
<line x1="29.93" y1="737.25" x2="665.30" y2="737.25" stroke="#cfcfcf" stroke-width="1.2" stroke-dasharray="1.2 6.835"/>
<line x1="29.93" y1="780.12" x2="665.30" y2="780.12" stroke="#cfcfcf" stroke-width="1.2" stroke-dasharray="1.2 6.835"/>
<line x1="62.67" y1="487.97" x2="62.67" y2="823.00" stroke="#cfcfcf" stroke-width="1.2" stroke-dasharray="1.2 7.375"/>
<line x1="102.85" y1="487.97" x2="102.85" y2="823.00" stroke="#cfcfcf" stroke-width="1.2" stroke-dasharray="1.2 7.375"/>
<line x1="143.02" y1="487.97" x2="143.02" y2="823.00" stroke="#cfcfcf" stroke-width="1.2" stroke-dasharray="1.2 7.375"/>
<line x1="183.20" y1="487.97" x2="183.20" y2="823.00" stroke="#cfcfcf" stroke-width="1.2" stroke-dasharray="1.2 7.375"/>
<line x1="223.38" y1="487.97" x2="223.38" y2="823.00" stroke="#cfcfcf" stroke-width="1.2" stroke-dasharray="1.2 7.375"/>
<line x1="263.55" y1="487.97" x2="263.55" y2="823.00" stroke="#cfcfcf" stroke-width="1.2" stroke-dasharray="1.2 7.375"/>
<line x1="303.72" y1="487.97" x2="303.72" y2="823.00" stroke="#cfcfcf" stroke-width="1.2" stroke-dasharray="1.2 7.375"/>
<line x1="343.90" y1="487.97" x2="343.90" y2="823.00" stroke="#b0b0b0" stroke-width="2.2" stroke-dasharray="1.2 7.375"/>
<line x1="384.07" y1="487.97" x2="384.07" y2="823.00" stroke="#cfcfcf" stroke-width="1.2" stroke-dasharray="1.2 7.375"/>
<line x1="424.25" y1="487.97" x2="424.25" y2="823.00" stroke="#cfcfcf" stroke-width="1.2" stroke-dasharray="1.2 7.375"/>
<line x1="464.42" y1="487.97" x2="464.42" y2="823.00" stroke="#cfcfcf" stroke-width="1.2" stroke-dasharray="1.2 7.375"/>
<line x1="504.60" y1="487.97" x2="504.60" y2="823.00" stroke="#cfcfcf" stroke-width="1.2" stroke-dasharray="1.2 7.375"/>
<line x1="544.77" y1="487.97" x2="544.77" y2="823.00" stroke="#cfcfcf" stroke-width="1.2" stroke-dasharray="1.2 7.375"/>
<line x1="584.95" y1="487.97" x2="584.95" y2="823.00" stroke="#cfcfcf" stroke-width="1.2" stroke-dasharray="1.2 7.375"/>
<line x1="625.12" y1="487.97" x2="625.12" y2="823.00" stroke="#cfcfcf" stroke-width="1.2" stroke-dasharray="1.2 7.375"/>
<line x1="29.93" y1="481.50" x2="665.30" y2="481.50" stroke="#c8c8c8" stroke-width="2" stroke-dasharray="1.2 6.835"/>
<line x1="29.93" y1="821.50" x2="665.30" y2="821.50" stroke="#c8c8c8" stroke-width="2" stroke-dasharray="1.2 6.835"/>
<line x1="24.00" y1="487.97" x2="24.00" y2="823.00" stroke="#c8c8c8" stroke-width="2" stroke-dasharray="1.2 7.375"/>
<line x1="663.80" y1="487.97" x2="663.80" y2="823.00" stroke="#c8c8c8" stroke-width="2" stroke-dasharray="1.2 7.375"/>
<rect x="22.5" y="480" width="642.8" height="343" fill="none" stroke="#b2b2b2" stroke-width="1.0"/>
<path d="M9.90,689.90 L16.80,689.90 L21.60,694.40 L16.80,699.00 L9.90,699.00 Z" fill="#1010ff"/>
<rect x="12.69" y="692.10" width="2.00" height="4.70" fill="#d8d8ff" opacity="0.75"/>
<path d="M16.6,737.7 L16.6,695.6 L24,695.6" stroke="#ff2020" stroke-width="1.7" fill="none"/>
<line x1="7.40" y1="737.70" x2="26.40" y2="737.70" stroke="#ff1a1a" stroke-width="1.8"/>
<path d="M11.25,739.30 L21.95,739.30 L19.85,743.10 L13.35,743.10 Z" fill="#ff1a1a" opacity="0.85"/>
<path d="M9.00,777.20 L16.44,777.20 L22.00,781.30 L16.44,788.00 L9.00,788.00 Z" fill="#30f030"/>
<rect x="12.09" y="779.40" width="2.00" height="6.40" fill="#c0ffc0" opacity="0.75"/>
<path d="M14.8,822.5 L14.8,781.3 L22.5,781.3" stroke="#2a80c8" stroke-width="1.7" fill="none"/>
<line x1="5.80" y1="822.50" x2="25.50" y2="822.50" stroke="#2a80c8" stroke-width="1.8"/>
<path d="M9.25,824.10 L20.35,824.10 L18.00,827.90 L11.60,827.90 Z" fill="#2a80c8" opacity="0.85"/>
<path d="M23 547.6h1v3.0h-1ZM24 546.9h2v5.4h-2ZM26 547.4h1v4.0h-1ZM27 546.3h1v6.8h-1ZM28 547.5h2v3.6h-2ZM30 546.0h1v4.8h-1ZM31 541.5h2v10.0h-2ZM33 547.2h1v6.3h-1ZM34 546.5h1v5.2h-1ZM35 545.6h1v8.4h-1ZM36 547.2h1v3.7h-1ZM37 544.6h1v5.5h-1ZM40 539.7h2v11.3h-2ZM42 545.5h1v5.8h-1ZM43 546.5h1v3.9h-1ZM44 546.9h2v5.1h-2ZM46 545.7h2v4.7h-2ZM48 544.8h2v6.7h-2ZM50 546.5h2v5.1h-2ZM52 545.5h2v5.3h-2ZM56 541.6h2v10.9h-2ZM58 545.2h1v4.9h-1ZM59 545.3h1v6.3h-1ZM60 546.4h2v3.8h-2ZM62 545.0h2v5.1h-2ZM64 540.3h2v10.6h-2ZM66 546.6h1v5.3h-1ZM67 545.9h1v10.2h-1ZM68 546.5h1v3.7h-1ZM69 540.6h2v10.6h-2ZM71 545.7h2v6.5h-2ZM73 547.0h2v3.9h-2ZM75 546.1h1v7.6h-1ZM80 546.1h2v4.2h-2ZM84 545.2h2v6.6h-2ZM86 546.6h2v4.1h-2ZM88 544.9h1v7.1h-1ZM92 546.6h2v4.2h-2ZM95 546.7h2v5.3h-2ZM97 546.5h1v5.5h-1ZM98 541.9h1v8.0h-1ZM99 544.7h2v5.2h-2ZM101 546.1h1v6.5h-1ZM104 539.5h2v11.2h-2ZM106 545.4h2v6.4h-2ZM109 545.7h2v5.0h-2ZM111 546.2h1v6.1h-1ZM112 541.4h2v9.4h-2ZM114 546.2h2v5.5h-2ZM120 546.1h2v8.8h-2ZM124 545.3h1v6.3h-1ZM125 546.4h1v4.2h-1ZM126 545.2h2v8.8h-2ZM128 546.9h2v4.5h-2ZM130 545.6h1v4.2h-1ZM131 546.6h1v3.6h-1ZM133 546.2h2v3.6h-2ZM136 546.3h2v7.0h-2ZM138 546.6h2v4.2h-2ZM140 545.5h1v5.7h-1ZM141 546.3h2v5.2h-2ZM143 545.9h1v4.2h-1ZM144 545.7h2v4.2h-2ZM146 546.2h2v5.1h-2ZM152 545.9h1v4.9h-1ZM153 544.4h2v5.9h-2ZM155 546.2h2v4.1h-2ZM157 542.6h2v7.7h-2ZM159 545.3h1v5.1h-1ZM160 546.1h2v4.1h-2ZM162 541.8h2v9.8h-2ZM164 547.0h2v5.4h-2ZM167 546.7h1v3.7h-1ZM171 547.1h2v3.9h-2ZM173 545.4h2v7.3h-2ZM177 547.2h2v3.7h-2ZM179 546.9h1v3.4h-1ZM183 546.3h2v6.2h-2ZM185 545.1h1v5.2h-1ZM188 546.2h1v5.7h-1ZM189 546.6h2v4.0h-2ZM191 546.9h2v4.2h-2ZM193 545.9h2v5.2h-2ZM195 546.7h2v4.5h-2ZM197 544.6h1v5.4h-1ZM198 545.6h2v4.8h-2ZM200 544.7h2v5.3h-2ZM202 546.8h1v4.2h-1ZM203 545.6h2v5.6h-2ZM205 545.4h2v7.4h-2ZM207 544.7h1v5.3h-1ZM211 546.0h1v3.8h-1ZM212 545.6h2v4.4h-2ZM214 545.2h2v5.8h-2ZM216 545.6h2v4.7h-2ZM218 541.8h2v8.8h-2ZM220 546.3h1v4.8h-1ZM221 542.6h2v8.4h-2ZM226 545.4h2v5.2h-2ZM228 545.6h1v5.4h-1ZM229 546.3h1v4.7h-1ZM230 546.2h1v4.6h-1ZM232 546.4h2v3.6h-2ZM238 545.4h2v5.7h-2ZM240 546.5h2v4.7h-2ZM242 546.3h2v4.7h-2ZM244 546.5h2v4.2h-2ZM246 545.7h2v8.0h-2ZM248 546.9h2v6.7h-2ZM250 542.8h1v8.4h-1ZM251 546.0h1v4.8h-1ZM253 545.5h1v4.6h-1ZM256 546.7h2v3.5h-2ZM258 545.9h1v6.0h-1ZM259 546.8h2v3.7h-2ZM261 546.9h2v4.3h-2ZM263 545.1h1v6.0h-1ZM264 546.2h1v5.2h-1ZM265 546.4h2v5.7h-2ZM269 546.1h2v4.7h-2ZM271 546.2h1v4.6h-1ZM272 546.0h2v4.1h-2ZM274 545.6h2v5.8h-2ZM276 541.2h2v10.8h-2ZM278 546.9h2v3.1h-2ZM280 541.9h2v10.0h-2ZM282 546.6h1v3.7h-1ZM283 546.8h2v3.0h-2ZM285 546.6h2v3.3h-2ZM287 545.5h2v4.4h-2ZM289 544.9h2v4.7h-2ZM291 545.0h1v6.0h-1ZM292 541.1h2v9.7h-2ZM294 545.0h1v5.6h-1ZM296 546.2h2v4.0h-2ZM298 545.8h2v4.7h-2ZM300 545.9h1v7.9h-1ZM303 546.9h2v4.9h-2ZM305 547.4h2v3.8h-2ZM308 546.6h1v5.6h-1ZM309 546.8h1v3.7h-1ZM310 546.3h1v4.6h-1ZM312 541.8h2v9.1h-2ZM314 545.8h2v4.7h-2ZM316 547.1h2v4.8h-2ZM318 545.0h2v6.5h-2ZM320 545.2h1v6.2h-1ZM322 544.6h1v6.7h-1ZM323 543.7h2v8.5h-2ZM325 547.1h2v3.5h-2ZM327 547.0h1v4.2h-1ZM328 545.5h2v9.7h-2ZM330 546.6h2v4.3h-2ZM338 547.5h1v4.8h-1ZM339 546.1h2v6.5h-2ZM342 546.0h2v5.3h-2ZM344 546.7h1v4.6h-1ZM345 546.1h1v5.8h-1ZM346 547.4h2v4.1h-2ZM348 544.8h2v5.8h-2ZM350 545.7h1v5.4h-1ZM351 546.1h1v5.6h-1ZM352 547.3h1v8.4h-1ZM353 543.0h1v7.8h-1ZM354 547.4h2v4.3h-2ZM356 546.4h2v5.4h-2ZM358 546.7h1v5.8h-1ZM360 541.1h2v11.4h-2ZM362 547.4h1v4.6h-1ZM363 546.8h1v4.0h-1ZM364 544.3h2v9.6h-2ZM366 539.8h1v14.2h-1ZM367 541.9h2v10.2h-2ZM371 545.8h1v7.4h-1ZM372 545.4h1v6.7h-1ZM373 546.1h1v4.7h-1ZM374 546.0h1v4.6h-1ZM375 541.7h2v9.7h-2ZM377 545.1h2v5.1h-2ZM380 546.1h2v4.3h-2ZM382 546.5h2v4.5h-2ZM384 547.2h2v6.5h-2ZM386 546.7h1v5.9h-1ZM388 544.9h2v6.2h-2ZM390 545.7h2v4.5h-2ZM392 544.4h2v6.2h-2ZM397 544.3h2v6.1h-2ZM399 545.6h2v5.8h-2ZM401 546.7h2v4.0h-2ZM403 545.3h1v4.7h-1ZM406 543.4h2v7.0h-2ZM408 545.6h1v4.7h-1ZM409 547.4h2v3.4h-2ZM411 547.2h1v5.2h-1ZM412 540.1h1v10.8h-1ZM413 547.4h2v4.8h-2ZM415 545.0h1v7.5h-1ZM416 546.4h2v6.5h-2ZM418 547.7h1v3.5h-1ZM419 547.1h1v4.3h-1ZM420 547.8h1v3.3h-1ZM423 546.4h1v5.2h-1ZM424 547.0h2v4.3h-2ZM430 546.2h1v4.8h-1ZM432 545.2h1v4.6h-1ZM433 545.4h2v4.8h-2ZM435 544.0h2v6.5h-2ZM437 543.5h2v6.6h-2ZM440 546.3h2v3.6h-2ZM442 545.2h1v5.1h-1ZM443 546.2h1v5.2h-1ZM444 540.5h1v11.3h-1ZM445 544.5h1v7.0h-1ZM448 544.8h1v6.0h-1ZM449 541.6h2v11.9h-2ZM451 547.1h1v4.0h-1ZM452 546.9h2v5.1h-2ZM454 546.2h1v6.2h-1ZM455 544.7h1v6.9h-1ZM456 546.9h2v4.2h-2ZM458 546.8h1v4.4h-1ZM459 546.7h2v5.3h-2ZM461 547.0h2v4.1h-2ZM463 545.1h1v8.2h-1ZM464 545.1h1v6.2h-1ZM465 543.5h2v8.5h-2ZM467 546.3h2v4.2h-2ZM469 546.0h1v5.0h-1ZM470 547.0h2v3.5h-2ZM472 547.1h2v5.2h-2ZM474 546.7h2v4.0h-2ZM476 546.2h1v4.6h-1ZM477 546.4h2v3.9h-2ZM479 545.9h1v4.2h-1ZM480 546.5h1v4.5h-1ZM481 545.6h2v7.1h-2ZM484 544.3h2v6.8h-2ZM486 545.4h2v4.8h-2ZM488 545.2h2v5.2h-2ZM490 546.5h1v5.4h-1ZM494 545.9h1v4.7h-1ZM495 547.3h2v4.5h-2ZM497 546.2h1v6.0h-1ZM498 544.1h1v7.6h-1ZM500 546.5h1v5.4h-1ZM501 545.8h1v4.5h-1ZM502 544.8h2v8.0h-2ZM504 546.8h2v4.2h-2ZM506 547.1h2v4.0h-2ZM510 544.9h2v8.5h-2ZM512 545.2h1v5.2h-1ZM513 546.8h2v3.7h-2ZM515 546.3h2v6.7h-2ZM517 545.9h1v5.6h-1ZM518 546.2h2v5.0h-2ZM520 545.7h1v5.7h-1ZM521 545.6h1v5.5h-1ZM522 544.7h2v7.3h-2ZM524 545.0h2v5.9h-2ZM526 545.3h1v6.1h-1ZM527 546.0h1v4.7h-1ZM528 546.4h2v6.0h-2ZM530 542.8h2v13.0h-2ZM532 546.8h2v5.0h-2ZM534 546.9h2v3.7h-2ZM536 544.1h2v7.5h-2ZM538 547.0h2v3.8h-2ZM540 547.2h2v4.8h-2ZM544 545.7h1v4.7h-1ZM545 546.3h1v5.3h-1ZM546 545.6h2v5.0h-2ZM548 545.9h2v4.6h-2ZM550 547.1h1v4.1h-1ZM551 541.7h1v9.3h-1ZM554 546.2h2v4.0h-2ZM556 544.8h2v5.7h-2ZM559 541.9h1v9.1h-1ZM561 542.5h2v9.9h-2ZM563 544.8h2v6.3h-2ZM565 546.8h2v6.6h-2ZM567 545.3h2v6.7h-2ZM569 544.4h2v7.4h-2ZM571 541.6h1v10.1h-1ZM572 545.6h1v5.4h-1ZM574 542.1h1v10.8h-1ZM575 545.3h2v6.0h-2ZM577 546.3h2v4.7h-2ZM579 545.7h2v4.6h-2ZM581 541.2h1v9.4h-1ZM583 545.7h1v7.0h-1ZM584 545.8h1v4.3h-1ZM586 545.0h1v7.5h-1ZM587 545.5h2v5.9h-2ZM589 547.4h2v2.8h-2ZM591 547.1h1v3.5h-1ZM592 546.5h1v6.8h-1ZM593 546.8h1v4.9h-1ZM594 545.2h2v6.1h-2ZM596 544.9h2v5.4h-2ZM598 545.9h2v9.0h-2ZM600 546.5h1v6.0h-1ZM603 544.8h1v5.2h-1ZM604 546.4h1v5.5h-1ZM605 542.6h2v9.2h-2ZM607 546.5h1v3.5h-1ZM608 547.1h2v5.9h-2ZM612 546.7h2v4.7h-2ZM614 546.1h1v4.8h-1ZM616 545.4h2v4.8h-2ZM618 544.9h2v7.6h-2ZM620 546.7h1v6.0h-1ZM622 546.4h1v4.4h-1ZM623 546.1h1v4.1h-1ZM624 547.1h2v6.2h-2ZM626 546.5h1v5.3h-1ZM627 547.1h2v3.2h-2ZM630 544.5h1v6.7h-1ZM632 546.8h2v4.4h-2ZM634 545.0h1v5.5h-1ZM635 545.6h2v8.7h-2ZM637 545.4h1v6.3h-1ZM638 545.9h1v4.3h-1ZM639 546.4h2v5.9h-2ZM641 546.7h2v5.9h-2ZM643 546.5h1v4.2h-1ZM644 547.0h1v3.2h-1ZM646 545.1h1v6.9h-1ZM651 544.3h2v7.5h-2ZM653 541.0h2v10.4h-2ZM655 545.9h1v4.9h-1ZM656 546.3h2v4.0h-2ZM658 546.4h1v5.3h-1ZM661 543.7h2v7.1h-2Z" fill="#3030ff" opacity="0.72"/>
<polyline points="23,548.97 24,548.97 25,548.95 26,548.94 27,548.91 28,548.89 29,548.86 30,548.84 31,548.81 32,548.78 33,548.76 34,548.73 35,548.71 36,548.69 37,548.67 38,548.65 39,548.64 40,548.62 41,548.60 42,548.59 43,548.57 44,548.56 45,548.55 46,548.53 47,548.52 48,548.51 49,548.51 50,548.50 51,548.50 52,548.49 53,548.49 54,548.48 55,548.47 56,548.45 57,548.44 58,548.42 59,548.40 60,548.38 61,548.37 62,548.36 63,548.36 64,548.37 65,548.37 66,548.39 67,548.40 68,548.43 69,548.45 70,548.47 71,548.49 72,548.52 73,548.54 74,548.57 75,548.60 76,548.63 77,548.66 78,548.69 79,548.72 80,548.76 81,548.79 82,548.82 83,548.84 84,548.86 85,548.87 86,548.88 87,548.88 88,548.87 89,548.85 90,548.82 91,548.78 92,548.74 93,548.70 94,548.65 95,548.60 96,548.55 97,548.51 98,548.46 99,548.42 100,548.38 101,548.35 102,548.32 103,548.30 104,548.29 105,548.29 106,548.29 107,548.30 108,548.32 109,548.35 110,548.39 111,548.42 112,548.46 113,548.50 114,548.53 115,548.55 116,548.57 117,548.57 118,548.58 119,548.57 120,548.56 121,548.55 122,548.54 123,548.52 124,548.50 125,548.48 126,548.46 127,548.43 128,548.39 129,548.35 130,548.30 131,548.26 132,548.21 133,548.16 134,548.12 135,548.09 136,548.07 137,548.07 138,548.07 139,548.10 140,548.13 141,548.17 142,548.21 143,548.25 144,548.29 145,548.33 146,548.36 147,548.38 148,548.39 149,548.41 150,548.41 151,548.42 152,548.43 153,548.44 154,548.45 155,548.47 156,548.48 157,548.50 158,548.52 159,548.53 160,548.55 161,548.56 162,548.57 163,548.58 164,548.58 165,548.59 166,548.59 167,548.59 168,548.60 169,548.60 170,548.61 171,548.61 172,548.62 173,548.62 174,548.62 175,548.63 176,548.63 177,548.63 178,548.63 179,548.62 180,548.62 181,548.61 182,548.60 183,548.59 184,548.58 185,548.57 186,548.56 187,548.54 188,548.53 189,548.52 190,548.50 191,548.49 192,548.48 193,548.48 194,548.47 195,548.46 196,548.45 197,548.44 198,548.43 199,548.41 200,548.39 201,548.37 202,548.34 203,548.32 204,548.29 205,548.26 206,548.23 207,548.20 208,548.17 209,548.13 210,548.10 211,548.06 212,548.03 213,548.00 214,547.97 215,547.95 216,547.93 217,547.93 218,547.93 219,547.94 220,547.95 221,547.97 222,548.00 223,548.03 224,548.06 225,548.09 226,548.13 227,548.16 228,548.20 229,548.24 230,548.29 231,548.34 232,548.39 233,548.43 234,548.48 235,548.52 236,548.55 237,548.56 238,548.57 239,548.57 240,548.55 241,548.53 242,548.50 243,548.46 244,548.43 245,548.40 246,548.38 247,548.36 248,548.36 249,548.36 250,548.37 251,548.38 252,548.40 253,548.42 254,548.44 255,548.47 256,548.49 257,548.51 258,548.53 259,548.55 260,548.57 261,548.59 262,548.60 263,548.61 264,548.63 265,548.64 266,548.64 267,548.65 268,548.65 269,548.65 270,548.65 271,548.64 272,548.63 273,548.61 274,548.59 275,548.57 276,548.54 277,548.51 278,548.47 279,548.44 280,548.40 281,548.36 282,548.33 283,548.29 284,548.26 285,548.24 286,548.22 287,548.22 288,548.22 289,548.23 290,548.24 291,548.27 292,548.30 293,548.34 294,548.39 295,548.44 296,548.49 297,548.54 298,548.60 299,548.65 300,548.70 301,548.75 302,548.80 303,548.83 304,548.86 305,548.89 306,548.90 307,548.91 308,548.92 309,548.92 310,548.91 311,548.89 312,548.88 313,548.86 314,548.83 315,548.81 316,548.78 317,548.75 318,548.73 319,548.71 320,548.69 321,548.68 322,548.68 323,548.69 324,548.71 325,548.74 326,548.77 327,548.81 328,548.85 329,548.90 330,548.94 331,548.97 332,549.00 333,549.02 334,549.03 335,549.04 336,549.04 337,549.03 338,549.02 339,549.00 340,548.99 341,548.97 342,548.95 343,548.93 344,548.91 345,548.89 346,548.87 347,548.86 348,548.85 349,548.84 350,548.84 351,548.85 352,548.86 353,548.89 354,548.93 355,548.97 356,549.02 357,549.07 358,549.13 359,549.17 360,549.21 361,549.24 362,549.25 363,549.25 364,549.23 365,549.21 366,549.17 367,549.12 368,549.06 369,549.00 370,548.94 371,548.88 372,548.83 373,548.79 374,548.76 375,548.74 376,548.73 377,548.74 378,548.75 379,548.77 380,548.79 381,548.81 382,548.83 383,548.84 384,548.85 385,548.84 386,548.83 387,548.81 388,548.79 389,548.75 390,548.72 391,548.68 392,548.64 393,548.60 394,548.56 395,548.52 396,548.49 397,548.46 398,548.44 399,548.43 400,548.43 401,548.44 402,548.47 403,548.51 404,548.56 405,548.61 406,548.68 407,548.75 408,548.83 409,548.90 410,548.98 411,549.06 412,549.14 413,549.21 414,549.28 415,549.33 416,549.38 417,549.42 418,549.44 419,549.44 420,549.42 421,549.38 422,549.31 423,549.23 424,549.13 425,549.02 426,548.89 427,548.76 428,548.63 429,548.51 430,548.39 431,548.28 432,548.19 433,548.11 434,548.05 435,548.01 436,547.98 437,547.98 438,547.99 439,548.01 440,548.05 441,548.11 442,548.17 443,548.24 444,548.31 445,548.39 446,548.47 447,548.55 448,548.62 449,548.68 450,548.74 451,548.79 452,548.82 453,548.85 454,548.87 455,548.88 456,548.89 457,548.88 458,548.87 459,548.85 460,548.82 461,548.79 462,548.76 463,548.72 464,548.68 465,548.65 466,548.61 467,548.58 468,548.55 469,548.52 470,548.51 471,548.50 472,548.50 473,548.50 474,548.51 475,548.52 476,548.54 477,548.56 478,548.59 479,548.61 480,548.64 481,548.67 482,548.69 483,548.72 484,548.75 485,548.77 486,548.80 487,548.82 488,548.84 489,548.86 490,548.87 491,548.88 492,548.88 493,548.88 494,548.87 495,548.86 496,548.85 497,548.83 498,548.82 499,548.80 500,548.79 501,548.77 502,548.76 503,548.75 504,548.74 505,548.72 506,548.70 507,548.68 508,548.65 509,548.63 510,548.60 511,548.58 512,548.56 513,548.54 514,548.53 515,548.53 516,548.53 517,548.54 518,548.55 519,548.57 520,548.58 521,548.60 522,548.62 523,548.64 524,548.66 525,548.68 526,548.71 527,548.73 528,548.75 529,548.78 530,548.81 531,548.83 532,548.86 533,548.88 534,548.89 535,548.90 536,548.91 537,548.90 538,548.89 539,548.87 540,548.84 541,548.81 542,548.77 543,548.73 544,548.70 545,548.66 546,548.64 547,548.62 548,548.60 549,548.60 550,548.61 551,548.62 552,548.64 553,548.66 554,548.68 555,548.70 556,548.72 557,548.73 558,548.74 559,548.75 560,548.75 561,548.74 562,548.73 563,548.72 564,548.71 565,548.70 566,548.69 567,548.68 568,548.68 569,548.67 570,548.67 571,548.67 572,548.67 573,548.66 574,548.66 575,548.65 576,548.65 577,548.64 578,548.64 579,548.65 580,548.65 581,548.66 582,548.68 583,548.70 584,548.72 585,548.74 586,548.76 587,548.78 588,548.79 589,548.80 590,548.80 591,548.79 592,548.78 593,548.76 594,548.73 595,548.69 596,548.66 597,548.62 598,548.58 599,548.54 600,548.51 601,548.48 602,548.46 603,548.45 604,548.45 605,548.46 606,548.47 607,548.49 608,548.51 609,548.54 610,548.56 611,548.58 612,548.60 613,548.61 614,548.62 615,548.62 616,548.62 617,548.61 618,548.60 619,548.59 620,548.58 621,548.57 622,548.56 623,548.56 624,548.56 625,548.56 626,548.57 627,548.58 628,548.60 629,548.61 630,548.63 631,548.65 632,548.67 633,548.69 634,548.71 635,548.73 636,548.75 637,548.76 638,548.76 639,548.76 640,548.76 641,548.75 642,548.73 643,548.70 644,548.67 645,548.64 646,548.60 647,548.56 648,548.52 649,548.47 650,548.43 651,548.39 652,548.36 653,548.32 654,548.30 655,548.28 656,548.26 657,548.26 658,548.26 659,548.26 660,548.28 661,548.30 662,548.33 663,548.37 664,548.41" fill="none" stroke="#0606ff" stroke-width="2.90"/>
<path d="M32.5 542.9V552.0M37.5 545.3V552.6M109.5 542.4V552.0M143.5 542.5V550.3M149.5 545.2V550.9M150.5 543.5V550.4M151.5 544.4V551.9M153.5 544.8V551.7M206.5 545.0V552.2M222.5 544.8V551.0M223.5 545.3V550.7M224.5 544.0V551.5M246.5 545.6V551.1M248.5 543.7V550.8M249.5 542.5V552.0M280.5 545.0V551.5M287.5 542.6V551.9M301.5 546.1V551.0M325.5 543.8V550.8M365.5 543.5V552.6M414.5 545.8V552.9M424.5 544.2V552.9M495.5 543.7V552.0M515.5 544.1V551.0M527.5 545.5V551.2M576.5 545.2V551.6M588.5 546.1V552.0M593.5 543.2V552.3M605.5 545.8V551.7M612.5 543.9V552.1M639.5 542.9V551.7M646.5 544.7V552.3M648.5 542.9V550.6M660.5 543.4V551.2M155.5 544.0V561.3M156.5 545.0V558.0" stroke="#2020ff" stroke-width="1" fill="none"/>
<polyline points="23.00,693.2 23.30,691.5 23.60,689.1 23.90,689.3 24.20,685.0 24.50,684.2 24.80,689.7 25.10,695.7 25.40,675.1 25.70,692.5 26.00,690.8 26.30,678.9 26.60,689.4 26.90,678.0 27.20,685.9 27.50,684.0 27.80,682.1 28.10,686.4 28.40,686.1 28.70,676.7 29.00,694.0 29.30,672.2 29.60,697.9 29.90,684.0 30.20,678.1 30.50,686.1 30.80,671.3 31.10,670.2 31.40,695.1 31.70,695.2 32.00,682.3 32.30,680.0 32.60,674.4 32.90,690.8 33.20,686.6 33.50,693.4 33.80,703.8 34.10,692.5 34.40,704.1 34.70,692.9 35.00,699.2 35.30,682.3 35.60,704.9 35.90,695.3 36.20,710.3 36.50,701.4 36.80,696.1 37.10,697.6 37.40,698.6 37.70,708.6 38.00,698.5 38.30,687.5 38.60,698.5 38.90,687.7 39.20,684.1 39.50,690.0 39.80,696.4 40.10,694.6 40.40,688.0 40.70,691.6 41.00,687.2 41.30,682.7 41.60,679.0 41.90,680.4 42.20,675.8 42.50,683.1 42.80,689.8 43.10,673.1 43.40,685.4 43.70,701.7 44.00,687.1 44.30,670.0 44.60,680.2 44.90,686.3 45.20,699.9 45.50,694.5 45.80,688.8 46.10,675.5 46.40,680.6 46.70,697.2 47.00,681.2 47.30,708.4 47.60,673.4 47.90,702.1 48.20,694.4 48.50,694.9 48.80,680.1 49.10,684.5 49.40,705.5 49.70,694.3 50.00,699.4 50.30,685.3 50.60,706.6 50.90,689.1 51.20,679.7 51.50,705.1 51.80,693.5 52.10,689.2 52.40,692.3 52.70,687.5 53.00,703.6 53.30,688.9 53.60,682.4 53.90,689.9 54.20,690.4 54.50,694.3 54.80,679.8 55.10,697.2 55.40,695.3 55.70,698.2 56.00,689.4 56.30,690.0 56.60,704.0 56.90,709.0 57.20,694.4 57.50,707.4 57.80,693.3 58.10,701.7 58.40,701.3 58.70,697.7 59.00,709.3 59.30,692.2 59.60,703.2 59.90,713.0 60.20,693.7 60.50,709.9 60.80,706.0 61.10,700.1 61.40,701.0 61.70,700.9 62.00,695.6 62.30,698.2 62.60,709.9 62.90,692.2 63.20,694.4 63.50,693.6 63.80,684.4 64.10,689.4 64.40,694.9 64.70,703.3 65.00,691.3 65.30,687.7 65.60,685.6 65.90,675.6 66.20,695.8 66.50,690.0 66.80,684.0 67.10,690.6 67.40,693.0 67.70,692.2 68.00,681.6 68.30,683.4 68.60,686.9 68.90,685.3 69.20,692.4 69.50,703.8 69.80,690.0 70.10,685.3 70.40,702.8 70.70,698.5 71.00,707.5 71.30,705.7 71.60,698.4 71.90,702.4 72.20,690.5 72.50,705.8 72.80,694.1 73.10,704.6 73.40,697.8 73.70,706.7 74.00,716.0 74.30,704.0 74.60,704.8 74.90,694.8 75.20,693.1 75.50,708.3 75.80,689.0 76.10,696.9 76.40,696.1 76.70,696.1 77.00,680.2 77.30,681.0 77.60,694.2 77.90,690.4 78.20,704.4 78.50,677.9 78.80,694.4 79.10,689.6 79.40,697.9 79.70,687.6 80.00,684.9 80.30,693.2 80.60,695.5 80.90,702.9 81.20,709.3 81.50,694.9 81.80,685.7 82.10,697.8 82.40,722.8 82.70,701.8 83.00,698.9 83.30,699.1 83.60,698.4 83.90,691.2 84.20,699.5 84.50,702.1 84.80,696.4 85.10,699.0 85.40,682.6 85.70,683.3 86.00,698.1 86.30,703.7 86.60,682.9 86.90,686.4 87.20,700.0 87.50,685.4 87.80,695.7 88.10,683.1 88.40,694.3 88.70,687.9 89.00,698.8 89.30,681.2 89.60,685.5 89.90,697.0 90.20,705.3 90.50,684.8 90.80,698.7 91.10,690.6 91.40,699.8 91.70,696.0 92.00,691.6 92.30,678.4 92.60,686.9 92.90,690.2 93.20,697.1 93.50,687.9 93.80,692.3 94.10,698.6 94.40,694.9 94.70,702.4 95.00,706.4 95.30,685.7 95.60,699.7 95.90,694.4 96.20,701.8 96.50,708.5 96.80,694.5 97.10,704.1 97.40,698.7 97.70,704.2 98.00,706.7 98.30,700.8 98.60,697.2 98.90,689.1 99.20,702.2 99.50,696.4 99.80,692.9 100.10,695.2 100.40,695.6 100.70,698.6 101.00,695.4 101.30,690.9 101.60,688.1 101.90,696.2 102.20,703.9 102.50,689.5 102.80,676.3 103.10,693.3 103.40,698.7 103.70,687.4 104.00,690.1 104.30,680.5 104.60,692.4 104.90,695.6 105.20,687.8 105.50,694.5 105.80,694.5 106.10,689.5 106.40,686.6 106.70,687.2 107.00,689.6 107.30,685.6 107.60,698.2 107.90,688.9 108.20,697.3 108.50,687.9 108.80,703.0 109.10,700.3 109.40,699.2 109.70,685.4 110.00,690.2 110.30,695.7 110.60,697.7 110.90,681.5 111.20,686.4 111.50,685.2 111.80,688.2 112.10,686.3 112.40,685.4 112.70,703.2 113.00,680.5 113.30,692.3 113.60,694.4 113.90,689.1 114.20,686.2 114.50,687.3 114.80,705.3 115.10,694.1 115.40,690.9 115.70,696.2 116.00,699.7 116.30,690.5 116.60,679.1 116.90,686.9 117.20,686.4 117.50,687.0 117.80,696.5 118.10,694.0 118.40,686.0 118.70,701.4 119.00,703.4 119.30,704.2 119.60,705.2 119.90,710.9 120.20,698.0 120.50,695.7 120.80,691.3 121.10,698.1 121.40,690.3 121.70,683.8 122.00,682.2 122.30,687.7 122.60,680.1 122.90,693.5 123.20,688.3 123.50,688.2 123.80,682.5 124.10,685.3 124.40,684.7 124.70,690.5 125.00,677.1 125.30,697.7 125.60,690.6 125.90,686.9 126.20,677.0 126.50,676.8 126.80,695.0 127.10,689.4 127.40,688.6 127.70,685.4 128.00,677.8 128.30,683.2 128.60,685.3 128.90,687.2 129.20,692.4 129.50,703.1 129.80,687.2 130.10,699.3 130.40,698.3 130.70,704.4 131.00,701.6 131.30,683.2 131.60,696.7 131.90,674.8 132.20,702.9 132.50,691.9 132.80,696.0 133.10,703.9 133.40,693.2 133.70,688.4 134.00,707.0 134.30,699.8 134.60,694.0 134.90,705.1 135.20,698.6 135.50,688.7 135.80,694.4 136.10,693.3 136.40,697.6 136.70,697.1 137.00,694.3 137.30,694.6 137.60,689.1 137.90,699.9 138.20,694.2 138.50,694.5 138.80,693.5 139.10,705.1 139.40,695.1 139.70,700.1 140.00,698.1 140.30,693.9 140.60,703.2 140.90,700.2 141.20,699.0 141.50,691.1 141.80,704.4 142.10,696.0 142.40,693.6 142.70,698.7 143.00,698.0 143.30,695.0 143.60,695.5 143.90,697.4 144.20,686.3 144.50,696.2 144.80,680.3 145.10,688.2 145.40,694.2 145.70,700.4 146.00,682.5 146.30,699.5 146.60,682.9 146.90,700.1 147.20,681.1 147.50,693.1 147.80,696.6 148.10,707.1 148.40,697.3 148.70,704.6 149.00,700.7 149.30,689.4 149.60,703.5 149.90,702.5 150.20,702.2 150.50,698.8 150.80,695.6 151.10,700.0 151.40,701.7 151.70,710.1 152.00,692.6 152.30,702.5 152.60,703.6 152.90,692.1 153.20,682.9 153.50,699.9 153.80,690.8 154.10,697.2 154.40,693.1 154.70,699.9 155.00,693.2 155.30,684.9 156.2,640 157,615 158.3,590 159,600 159.6,592 160.4,628 160.50,624.9 160.80,630.8 161.10,633.7 161.40,627.5 161.70,628.5 162.00,630.9 162.30,628.9 162.60,635.5 162.90,625.7 163.20,633.0 163.50,620.5 163.80,623.7 164.10,623.3 164.40,644.5 164.70,633.6 165.00,625.1 165.30,632.0 165.60,630.7 165.90,629.9 166.20,626.8 166.50,636.0 166.80,632.4 167.10,638.2 167.40,642.7 167.70,633.1 168.00,637.0 168.30,621.3 168.60,641.6 168.90,642.2 169.20,628.3 169.50,642.7 169.80,622.1 170.10,620.4 170.40,640.3 170.70,626.6 171.00,620.8 171.30,628.5 171.60,631.7 171.90,622.1 172.20,632.1 172.50,642.2 172.80,624.7 173.10,617.8 173.40,628.2 173.70,628.8 174.00,624.9 174.30,634.3 174.60,622.2 174.90,621.5 175.20,632.1 175.50,627.1 175.80,623.1 176.10,618.8 176.40,619.5 176.70,624.5 177.00,631.5 177.30,626.1 177.60,615.7 177.90,613.8 178.20,632.3 178.50,616.0 178.80,627.2 179.10,616.8 179.40,625.4 179.70,622.3 180.00,625.5 180.30,619.9 180.60,623.0 180.90,626.6 181.20,619.2 181.50,632.2 181.80,616.5 182.10,626.3 182.40,630.5 182.70,620.3 183.00,617.4 183.30,613.3 183.60,620.2 183.90,625.5 184.20,623.7 184.50,630.3 184.80,627.2 185.10,622.9 185.40,629.5 185.70,618.1 186.00,630.9 186.30,621.8 186.60,623.6 186.90,609.4 187.20,616.3 187.50,611.2 187.80,616.8 188.10,609.2 188.40,621.4 188.70,600.2 189.00,613.3 189.30,629.2 189.60,615.0 189.90,621.1 190.20,623.2 190.50,621.0 190.80,622.9 191.10,632.2 191.40,630.0 191.70,624.7 192.00,628.1 192.30,632.8 192.60,606.1 192.90,627.1 193.20,632.2 193.50,629.2 193.80,635.7 194.10,624.5 194.40,632.6 194.70,637.9 195.00,636.5 195.30,629.6 195.60,633.7 195.90,633.3 196.20,644.4 196.50,643.2 196.80,634.9 197.10,634.4 197.40,627.2 197.70,639.6 198.00,643.4 198.30,625.4 198.60,628.3 198.90,622.9 199.20,614.0 199.50,627.3 199.80,631.7 200.10,634.1 200.40,620.1 200.70,626.1 201.00,633.6 201.30,624.9 201.60,632.0 201.90,624.0 202.20,608.3 202.50,618.4 202.80,621.2 203.10,623.7 203.40,623.4 203.70,622.0 204.00,616.5 204.30,629.4 204.60,628.3 204.90,614.1 205.20,637.9 205.50,627.9 205.80,633.7 206.10,626.9 206.40,634.7 206.70,638.3 207.00,639.0 207.30,636.2 207.60,637.4 207.90,629.8 208.20,628.8 208.50,641.4 208.80,634.6 209.10,626.9 209.40,631.0 209.70,631.5 210.00,635.2 210.30,647.3 210.60,637.2 210.90,637.0 211.20,635.3 211.50,649.2 211.80,644.3 212.10,635.7 212.40,641.1 212.70,635.0 213.00,638.1 213.30,641.1 213.60,634.8 213.90,631.6 214.20,641.1 214.50,644.0 214.80,624.7 215.10,622.4 215.40,620.3 215.70,630.0 216.00,609.9 216.30,619.0 216.60,621.6 216.90,639.0 217.20,627.8 217.50,628.1 217.80,642.5 218.10,628.3 218.40,629.6 218.70,639.8 219.00,629.8 219.30,631.2 219.60,630.0 219.90,627.9 220.20,628.9 220.50,617.5 220.80,632.4 221.10,612.3 221.40,627.7 221.70,625.4 222.00,624.6 222.30,618.4 222.60,619.3 222.90,616.3 223.20,617.5 223.50,627.2 223.80,626.3 224.10,632.3 224.40,620.1 224.70,609.2 225.00,620.8 225.30,619.9 225.60,609.7 225.90,620.1 226.20,628.9 226.50,620.2 226.80,619.5 227.10,630.3 227.40,624.7 227.70,622.7 228.00,635.9 228.30,636.8 228.60,632.7 228.90,618.3 229.20,626.1 229.50,633.2 229.80,631.2 230.10,620.5 230.40,618.9 230.70,628.2 231.00,632.5 231.30,627.2 231.60,623.5 231.90,617.0 232.20,627.7 232.50,611.0 232.80,631.0 233.10,631.5 233.40,630.8 233.70,623.8 234.00,627.7 234.30,630.6 234.60,629.7 234.90,622.1 235.20,634.6 235.50,637.9 235.80,623.3 236.10,634.4 236.40,623.8 236.70,634.2 237.00,613.4 237.30,613.7 237.60,627.0 237.90,615.7 238.20,626.5 238.50,627.9 238.80,628.0 239.10,623.2 239.40,623.0 239.70,614.9 240.00,617.1 240.30,626.9 240.60,618.8 240.90,628.1 241.20,639.2 241.50,631.8 241.80,609.7 242.10,623.6 242.40,619.9 242.70,624.4 243.00,626.6 243.30,615.7 243.60,614.8 243.90,613.8 244.20,614.8 244.50,628.7 244.80,618.1 245.10,623.2 245.40,615.8 245.70,614.7 246.00,633.1 246.30,639.8 246.60,622.0 246.90,634.1 247.20,622.5 247.50,628.5 247.80,626.4 248.10,615.8 248.40,619.4 248.70,610.4 249.00,623.6 249.30,634.7 249.60,619.8 249.90,621.0 250.20,626.0 250.50,633.0 250.80,616.3 251.10,631.9 251.40,633.3 251.70,622.0 252.00,628.3 252.30,619.6 252.60,619.8 252.90,619.9 253.20,622.8 253.50,628.2 253.80,619.7 254.10,630.7 254.40,617.8 254.70,614.8 255.00,634.6 255.30,615.6 255.60,626.2 255.90,619.0 256.20,620.1 256.50,615.3 256.80,636.5 257.10,615.3 257.40,619.7 257.70,625.3 258.00,640.6 258.30,621.7 258.60,624.1 258.90,631.7 259.20,624.2 259.50,616.2 259.80,623.9 260.10,622.3 260.40,618.2 260.70,627.1 261.00,623.4 261.30,620.1 261.60,614.8 261.90,630.3 262.20,640.0 262.50,622.2 262.80,624.0 263.10,619.2 263.40,622.1 263.70,642.0 264.00,632.4 264.30,619.7 264.60,627.3 264.90,617.2 265.20,639.8 265.50,634.5 265.80,628.0 266.10,632.0 266.40,613.7 266.70,622.0 267.00,630.9 267.30,636.0 267.60,620.4 267.90,612.3 268.20,618.6 268.50,629.7 268.80,620.2 269.10,623.6 269.40,614.4 269.70,629.7 270.00,627.5 270.30,622.9 270.60,621.7 270.90,640.8 271.20,629.5 271.50,631.0 271.80,643.7 272.10,628.1 272.40,637.9 272.70,641.3 273.00,625.4 273.30,631.2 273.60,634.6 273.90,620.6 274.20,630.3 274.50,625.7 274.80,636.4 275.10,635.0 275.40,612.8 275.70,627.3 276.00,636.0 276.30,628.7 276.60,634.3 276.90,624.3 277.20,625.1 277.50,618.4 277.80,618.2 278.10,637.4 278.40,627.8 278.70,616.7 279.00,622.3 279.30,631.8 279.60,616.8 279.90,621.5 280.20,613.8 280.50,618.6 280.80,630.7 281.10,631.9 281.40,627.7 281.70,625.1 282.00,628.8 282.30,623.0 282.60,622.6 282.90,636.5 283.20,625.7 283.50,620.8 283.80,618.3 284.10,613.3 284.40,637.8 284.70,628.4 285.00,627.2 285.30,616.3 285.60,627.2 285.90,616.3 286.20,620.9 286.50,620.0 286.80,623.7 287.10,618.8 287.40,613.8 287.70,608.7 288.00,622.7 288.30,618.3 288.60,617.1 288.90,620.1 289.20,625.1 289.50,622.2 289.80,626.0 290.10,625.7 290.40,604.7 290.70,617.3 291.00,623.4 291.30,636.7 291.60,634.3 291.90,632.8 292.20,632.3 292.50,633.1 292.80,638.4 293.10,631.8 293.40,629.9 293.70,633.3 294.00,641.5 294.30,639.7 294.60,623.8 294.90,635.4 295.20,646.2 295.50,629.4 295.80,635.6 296.10,631.7 296.40,636.3 296.70,629.2 297.00,623.1 297.30,631.2 297.60,627.3 297.90,630.8 298.20,622.5 298.50,632.5 298.80,631.9 299.10,621.8 299.40,618.3 299.70,622.5 300.00,629.2 300.30,625.3 300.60,617.2 300.90,630.1 301.20,633.3 301.50,620.9 301.80,616.8 302.10,626.9 302.40,619.2 302.70,614.5 303.00,628.8 303.30,616.5 303.60,613.8 303.90,620.6 304.20,619.8 304.50,621.9 304.80,625.5 305.10,616.1 305.40,622.5 305.70,627.0 306.00,629.2 306.30,623.6 306.60,617.7 306.90,629.3 307.20,637.0 307.50,629.7 307.80,637.5 308.10,630.5 308.40,621.6 308.70,620.5 309.00,629.2 309.30,621.3 309.60,630.9 309.90,621.2 310.20,627.8 310.50,620.4 310.80,621.6 311.10,636.1 311.40,630.0 311.70,626.5 312.00,630.2 312.30,619.2 312.60,635.6 312.90,629.2 313.20,641.0 313.50,630.9 313.80,622.9 314.10,612.7 314.40,618.4 314.70,625.7 315.00,610.0 315.30,612.8 315.60,612.2 315.90,602.4 316.20,616.4 316.50,615.0 316.80,616.1 317.10,618.5 317.40,623.9 317.70,628.0 318.00,639.7 318.30,626.3 318.60,636.3 318.90,630.1 319.20,626.6 319.50,627.6 319.80,622.9 320.10,625.2 320.40,637.9 320.70,651.4 321.00,629.4 321.30,636.0 321.60,633.0 321.90,629.5 322.20,633.2 322.50,619.8 322.80,627.3 323.10,632.0 323.40,628.8 323.70,636.0 324.00,635.4 324.30,620.2 324.60,633.4 324.90,641.3 325.20,622.5 325.50,629.1 325.80,635.1 326.10,624.8 326.40,618.1 326.70,632.3 327.00,636.8 327.30,622.7 327.60,626.0 327.90,614.9 328.20,622.4 328.50,634.0 328.80,621.4 329.10,626.6 329.40,628.8 329.70,629.7 330.00,626.7 330.30,619.3 330.60,621.6 330.90,631.8 331.20,628.4 331.50,618.8 331.80,621.7 332.10,626.0 332.40,618.0 332.70,613.2 333.00,619.9 333.30,630.3 333.60,610.6 333.90,624.6 334.20,613.1 334.50,638.4 334.80,622.1 335.10,606.5 335.40,617.3 335.70,641.7 336.00,616.0 336.30,619.9 336.60,616.9 336.90,619.1 337.20,614.5 337.50,615.2 337.80,625.3 338.10,619.1 338.40,626.6 338.70,625.7 339.00,626.6 339.30,623.9 339.60,622.9 339.90,610.7 340.20,628.1 340.50,625.7 340.80,634.0 341.10,612.4 341.40,624.8 341.70,614.4 342.00,617.1 342.30,631.6 342.60,621.3 342.90,614.4 343.20,624.9 343.50,629.4 343.80,624.0 344.10,628.6 344.40,621.3 344.70,625.4 345.00,621.0 345.30,617.7 345.60,618.1 345.90,635.8 346.20,627.0 346.50,628.1 346.80,622.7 347.10,618.4 347.40,635.7 347.70,616.6 348.00,629.4 348.30,623.3 348.60,632.9 348.90,631.0 349.20,630.3 349.50,632.0 349.80,628.7 350.10,632.5 350.40,637.0 350.70,642.5 351.00,623.6 351.30,621.2 351.60,617.1 351.90,623.9 352.20,625.7 352.50,637.5 352.80,615.4 353.10,638.3 353.40,628.4 353.70,636.7 354.00,631.5 354.30,630.2 354.60,642.5 354.90,630.1 355.20,617.6 355.50,627.8 355.80,624.8 356.10,622.0 356.40,624.8 356.70,621.1 357.00,626.8 357.30,622.3 357.60,613.9 357.90,623.9 358.20,609.6 358.50,640.6 358.80,630.8 359.10,627.3 359.40,628.4 359.70,625.9 360.00,627.2 360.30,632.0 360.60,618.2 360.90,614.9 361.20,618.0 361.50,635.4 361.80,636.9 362.10,634.2 362.40,636.4 362.70,633.0 363.00,633.4 363.30,631.6 363.60,620.9 363.90,626.9 364.20,632.0 364.50,634.6 364.80,634.0 365.10,623.8 365.40,629.2 365.70,626.1 366.00,634.4 366.30,623.5 366.60,630.1 366.90,632.0 367.20,620.7 367.50,639.6 367.80,627.0 368.10,626.9 368.40,639.6 368.70,643.5 369.00,635.7 369.30,623.6 369.60,624.2 369.90,632.1 370.20,628.1 370.50,639.9 370.80,624.6 371.10,628.8 371.40,635.5 371.70,629.5 372.00,629.8 372.30,620.7 372.60,629.6 372.90,630.0 373.20,625.7 373.50,633.1 373.80,607.9 374.10,636.5 374.40,631.2 374.70,643.4 375.00,633.5 375.30,629.8 375.60,620.2 375.90,620.9 376.20,625.9 376.50,621.4 376.80,630.6 377.10,629.8 377.40,628.1 377.70,630.0 378.00,629.3 378.30,622.4 378.60,613.9 378.90,628.8 379.20,620.2 379.50,614.9 379.80,627.4 380.10,615.6 380.40,628.2 380.70,635.3 381.00,625.7 381.30,621.8 381.60,629.9 381.90,627.5 382.20,633.7 382.50,622.6 382.80,634.1 383.10,635.8 383.40,633.5 383.70,626.7 384.00,647.6 384.30,648.6 384.60,642.3 384.90,634.8 385.20,663.0 385.50,654.6 385.80,632.2 386.10,636.2 386.40,634.0 386.70,633.7 387.00,635.5 387.30,624.3 387.60,624.7 387.90,637.6 388.20,627.8 388.50,628.9 388.80,627.5 389.10,626.0 389.40,627.8 389.70,617.7 390.00,630.3 390.30,621.1 390.60,629.4 390.90,626.7 391.20,625.2 391.50,630.3 391.80,633.6 392.10,620.3 392.40,614.3 392.70,626.1 393.00,616.2 393.30,619.0 393.60,634.6 393.90,626.1 394.20,622.1 394.50,622.3 394.80,626.7 395.10,623.7 395.40,627.3 395.70,633.8 396.00,626.0 396.30,633.3 396.60,625.7 396.90,637.2 397.20,633.7 397.50,624.2 397.80,633.5 398.10,628.9 398.40,623.7 398.70,630.3 399.00,622.7 399.30,640.1 399.60,623.0 399.90,633.3 400.20,638.2 400.50,626.1 400.80,638.2 401.10,624.4 401.40,631.2 401.70,623.6 402.00,615.6 402.30,618.1 402.60,611.4 402.90,625.1 403.20,617.5 403.50,613.4 403.80,621.0 404.10,608.7 404.40,605.3 404.70,603.7 405.00,615.8 405.30,616.7 405.60,611.6 405.90,608.0 406.20,612.7 406.50,613.2 406.80,618.4 407.10,601.8 407.40,619.0 407.70,608.4 408.00,607.0 408.30,615.6 408.60,635.1 408.90,626.2 409.20,628.6 409.50,624.3 409.80,630.9 410.10,620.2 410.40,615.8 410.70,618.0 411.00,619.5 411.30,628.3 411.60,626.8 411.90,630.2 412.20,623.3 412.50,624.9 412.80,617.8 413.10,610.3 413.40,622.4 413.70,631.7 414.00,633.2 414.30,620.5 414.60,617.7 414.90,636.7 415.20,628.8 415.50,629.5 415.80,623.8 416.10,629.1 416.40,638.5 416.70,621.0 417.00,614.0 417.30,630.0 417.60,629.6 417.90,639.0 418.20,624.3 418.50,644.3 418.80,641.2 419.10,623.3 419.40,629.0 419.70,622.9 420.00,633.3 420.30,631.4 420.60,639.6 420.90,637.5 421.20,624.2 421.50,635.3 421.80,629.9 422.10,634.4 422.40,626.1 422.70,628.5 423.00,627.8 423.30,629.5 423.60,627.5 423.90,625.3 424.20,629.7 424.50,626.5 424.80,630.0 425.10,628.0 425.40,623.1 425.70,638.6 426.00,629.0 426.30,631.3 426.60,628.5 426.90,628.7 427.20,624.7 427.50,620.8 427.80,628.2 428.10,628.5 428.40,636.7 428.70,636.9 429.00,637.5 429.30,631.2 429.60,631.7 429.90,636.5 430.20,625.6 430.50,629.2 430.80,632.2 431.10,626.7 431.40,623.5 431.70,620.2 432.00,613.2 432.30,617.3 432.60,626.0 432.90,610.3 433.20,632.0 433.50,612.9 433.80,623.9 434.10,627.2 434.40,625.9 434.70,630.4 435.00,626.5 435.30,630.2 435.60,628.8 435.90,619.9 436.20,626.8 436.50,621.0 436.80,619.0 437.10,624.0 437.40,626.8 437.70,624.6 438.00,627.4 438.30,608.0 438.60,618.1 438.90,612.7 439.20,607.0 439.50,617.4 439.80,622.7 440.10,611.2 440.40,627.9 440.70,627.4 441.00,624.3 441.30,621.6 441.60,632.8 441.90,628.3 442.20,620.5 442.50,628.2 442.80,623.8 443.10,629.0 443.40,628.6 443.70,639.6 444.00,628.8 444.30,627.7 444.60,618.1 444.90,626.3 445.20,623.9 445.50,626.1 445.80,626.6 446.10,624.5 446.40,614.5 446.70,622.9 447.00,621.5 447.30,638.5 447.60,634.9 447.90,626.9 448.20,623.2 448.50,618.0 448.80,615.1 449.10,623.9 449.40,618.6 449.70,628.5 450.00,620.0 450.30,629.0 450.60,632.0 450.90,623.2 451.20,631.8 451.50,626.2 451.80,625.1 452.10,631.8 452.40,621.2 452.70,622.7 453.00,624.8 453.30,623.3 453.60,632.6 453.90,634.4 454.20,626.7 454.50,628.0 454.80,632.0 455.10,625.3 455.40,628.3 455.70,613.6 456.00,626.0 456.30,639.8 456.60,623.4 456.90,636.0 457.20,624.6 457.50,627.5 457.80,643.2 458.10,655.7 458.40,644.4 458.70,639.4 459.00,638.9 459.30,647.8 459.60,645.1 459.90,638.8 460.20,623.7 460.50,631.6 460.80,619.8 461.10,621.2 461.40,636.5 461.70,630.5 462.00,618.3 462.30,627.0 462.60,620.4 462.90,635.8 463.20,630.7 463.50,622.4 463.80,620.5 464.10,631.8 464.40,637.8 464.70,628.0 465.00,625.8 465.30,637.5 465.60,641.0 465.90,633.8 466.20,644.5 466.50,634.8 466.80,637.7 467.10,633.7 467.40,643.9 467.70,638.4 468.00,635.1 468.30,639.5 468.60,641.1 468.90,638.3 469.20,645.2 469.50,639.6 469.80,646.4 470.10,638.5 470.40,642.1 470.70,625.6 471.00,633.4 471.30,633.7 471.60,632.9 471.90,621.4 472.20,625.6 472.50,626.8 472.80,631.2 473.10,616.2 473.40,627.6 473.70,620.1 474.00,632.0 474.30,638.3 474.60,621.6 474.90,616.9 475.20,623.6 475.50,638.2 475.80,629.1 476.10,628.0 476.40,640.3 476.70,625.7 477.00,623.9 477.30,619.4 477.60,617.0 477.90,613.2 478.20,620.5 478.50,626.8 478.80,625.5 479.10,623.1 479.40,617.3 479.70,616.1 480.00,612.8 480.30,625.9 480.60,628.7 480.90,622.2 481.20,620.4 481.50,649.8 481.80,613.6 482.10,635.9 482.40,630.8 482.70,632.9 483.00,628.1 483.30,627.9 483.60,629.3 483.90,624.1 484.20,626.0 484.50,629.8 484.80,620.9 485.10,619.1 485.40,627.2 485.70,630.9 486.00,615.2 486.30,623.0 486.60,626.1 486.90,605.0 487.20,619.7 487.50,625.5 487.80,621.3 488.10,615.0 488.40,628.1 488.70,625.1 489.00,619.9 489.30,626.0 489.60,623.8 489.90,622.1 490.20,622.8 490.50,636.5 490.80,635.9 491.10,633.7 491.40,634.2 491.70,624.8 492.00,626.7 492.30,618.8 492.60,629.2 492.90,608.6 493.20,612.9 493.50,613.3 493.80,618.4 494.10,633.7 494.40,628.1 494.70,632.0 495.00,629.9 495.30,617.9 495.60,629.5 495.90,614.5 496.20,638.3 496.50,626.2 496.80,621.3 497.10,632.6 497.40,627.7 497.70,629.2 498.00,605.7 498.30,626.7 498.60,620.1 498.90,627.4 499.20,620.0 499.50,624.0 499.80,624.0 500.10,625.0 500.40,628.2 500.70,615.3 501.00,629.0 501.30,636.2 501.60,624.8 501.90,630.3 502.20,628.4 502.50,624.5 502.80,612.5 503.10,639.0 503.40,633.0 503.70,632.7 504.00,630.1 504.30,616.6 504.60,632.6 504.90,613.0 505.20,617.3 505.50,615.7 505.80,628.1 506.10,633.0 506.40,628.0 506.70,626.5 507.00,628.7 507.30,629.7 507.60,627.0 507.90,623.9 508.20,637.7 508.50,637.5 508.80,632.2 509.10,633.3 509.40,642.2 509.70,627.2 510.00,630.4 510.30,630.4 510.60,628.3 510.90,628.8 511.20,635.4 511.50,635.0 511.80,634.8 512.10,620.8 512.40,626.6 512.70,632.3 513.00,627.1 513.30,632.2 513.60,628.7 513.90,627.2 514.20,628.8 514.50,617.0 514.80,621.5 515.10,625.4 515.40,621.4 515.70,627.9 516.00,621.1 516.30,619.1 516.60,623.0 516.90,631.8 517.20,621.9 517.50,623.1 517.80,638.5 518.10,634.8 518.40,634.3 518.70,615.6 519.00,617.9 519.30,634.9 519.60,627.6 519.90,635.5 520.20,626.6 520.50,619.5 520.80,632.8 521.10,633.6 521.40,629.3 521.70,623.9 522.00,616.1 522.30,635.5 522.60,625.4 522.90,625.7 523.20,632.1 523.50,629.6 523.80,631.0 524.10,632.1 524.40,621.0 524.70,636.4 525.00,617.3 525.30,606.2 525.60,637.1 525.90,624.5 526.20,616.9 526.50,617.7 526.80,624.2 527.10,623.2 527.40,615.8 527.70,614.7 528.00,626.7 528.30,627.4 528.60,639.0 528.90,626.6 529.20,625.2 529.50,617.3 529.80,617.0 530.10,644.5 530.40,623.9 530.70,629.7 531.00,623.7 531.30,620.1 531.60,638.6 531.90,622.3 532.20,620.0 532.50,624.9 532.80,618.2 533.10,632.1 533.40,628.2 533.70,632.0 534.00,630.4 534.30,623.4 534.60,638.3 534.90,631.0 535.20,624.0 535.50,625.5 535.80,615.5 536.10,630.0 536.40,633.2 536.70,625.2 537.00,628.1 537.30,630.0 537.60,621.8 537.90,620.1 538.20,633.3 538.50,634.3 538.80,641.9 539.10,625.6 539.40,623.9 539.70,623.4 540.00,620.9 540.30,636.5 540.60,627.5 540.90,628.7 541.20,619.0 541.50,622.0 541.80,628.2 542.10,622.8 542.40,618.6 542.70,620.2 543.00,624.0 543.30,622.5 543.60,627.9 543.90,633.0 544.20,636.2 544.50,622.0 544.80,624.2 545.10,629.0 545.40,626.4 545.70,635.7 546.00,621.8 546.30,625.9 546.60,627.3 546.90,622.6 547.20,629.6 547.50,626.2 547.80,631.2 548.10,624.2 548.40,619.1 548.70,632.0 549.00,625.2 549.30,631.1 549.60,619.5 549.90,619.6 550.20,617.2 550.50,618.0 550.80,624.9 551.10,626.3 551.40,627.6 551.70,637.2 552.00,633.3 552.30,633.7 552.60,632.9 552.90,629.3 553.20,638.6 553.50,627.6 553.80,632.6 554.10,634.4 554.40,639.4 554.70,640.3 555.00,635.0 555.30,640.0 555.60,635.0 555.90,637.3 556.20,624.1 556.50,630.2 556.80,629.3 557.10,631.8 557.40,633.0 557.70,631.5 558.00,637.9 558.30,627.7 558.60,629.2 558.90,632.1 559.20,619.8 559.50,648.3 559.80,633.7 560.10,632.0 560.40,629.4 560.70,616.9 561.00,635.7 561.30,627.9 561.60,643.4 561.90,638.9 562.20,625.1 562.50,633.1 562.80,627.5 563.10,626.9 563.40,630.9 563.70,632.7 564.00,636.2 564.30,629.4 564.60,626.9 564.90,627.7 565.20,624.3 565.50,629.1 565.80,623.2 566.10,638.7 566.40,628.9 566.70,630.4 567.00,629.7 567.30,644.0 567.60,625.6 567.90,627.0 568.20,634.3 568.50,628.7 568.80,632.1 569.10,619.8 569.40,644.8 569.70,635.9 570.00,627.5 570.30,639.4 570.60,645.8 570.90,639.6 571.20,648.6 571.50,641.1 571.80,643.6 572.10,636.6 572.40,641.1 572.70,634.0 573.00,624.3 573.30,625.3 573.60,620.0 573.90,626.6 574.20,637.3 574.50,632.5 574.80,621.2 575.10,612.4 575.40,618.3 575.70,623.9 576.00,617.1 576.30,615.2 576.60,622.3 576.90,627.9 577.20,630.3 577.50,616.5 577.80,622.4 578.10,634.9 578.40,632.8 578.70,626.8 579.00,630.7 579.30,621.0 579.60,629.3 579.90,626.8 580.20,620.5 580.50,615.9 580.80,627.3 581.10,622.7 581.40,623.2 581.70,624.4 582.00,608.5 582.30,625.0 582.60,623.2 582.90,615.2 583.20,625.6 583.50,615.6 583.80,629.5 584.10,635.3 584.40,615.4 584.70,623.9 585.00,617.8 585.30,631.2 585.60,629.0 585.90,622.4 586.20,621.8 586.50,624.8 586.80,629.8 587.10,631.4 587.40,629.1 587.70,638.2 588.00,637.7 588.30,632.0 588.60,633.0 588.90,626.5 589.20,635.8 589.50,629.0 589.80,623.4 590.10,632.5 590.40,637.7 590.70,630.2 591.00,632.2 591.30,612.5 591.60,625.8 591.90,623.3 592.20,622.4 592.50,631.2 592.80,639.0 593.10,633.8 593.40,628.7 593.70,628.4 594.00,635.6 594.30,631.3 594.60,622.9 594.90,648.9 595.20,643.0 595.50,647.7 595.80,635.7 596.10,640.1 596.40,634.0 596.70,626.3 597.00,634.3 597.30,642.6 597.60,634.5 597.90,641.5 598.20,633.5 598.50,639.0 598.80,641.1 599.10,620.4 599.40,629.1 599.70,627.1 600.00,630.8 600.30,630.6 600.60,630.6 600.90,637.2 601.20,631.0 601.50,613.4 601.80,621.7 602.10,630.8 602.40,617.0 602.70,625.0 603.00,638.2 603.30,611.0 603.60,624.8 603.90,638.8 604.20,614.5 604.50,628.2 604.80,621.9 605.10,638.3 605.40,624.8 605.70,616.2 606.00,633.2 606.30,626.0 606.60,619.8 606.90,630.3 607.20,632.5 607.50,612.1 607.80,630.1 608.10,618.7 608.40,619.9 608.70,634.0 609.00,633.2 609.30,629.4 609.60,630.2 609.90,637.4 610.20,628.2 610.50,631.2 610.80,631.8 611.10,623.3 611.40,630.2 611.70,627.4 612.00,635.0 612.30,637.8 612.60,633.6 612.90,632.6 613.20,646.2 613.50,626.7 613.80,636.9 614.10,630.6 614.40,647.0 614.70,627.4 615.00,630.4 615.30,632.4 615.60,640.1 615.90,622.5 616.20,628.2 616.50,625.4 616.80,618.9 617.10,630.1 617.40,630.6 617.70,624.7 618.00,634.3 618.30,608.1 618.60,628.8 618.90,635.9 619.20,625.3 619.50,620.1 619.80,622.3 620.10,628.4 620.40,629.9 620.70,619.1 621.00,620.1 621.30,607.9 621.60,633.6 621.90,637.3 622.20,639.4 622.50,634.2 622.80,631.4 623.10,629.4 623.40,637.5 623.70,642.9 624.00,644.7 624.30,647.9 624.60,645.6 624.90,647.0 625.20,646.5 625.50,640.6 625.80,632.3 626.10,637.8 626.40,637.6 626.70,651.9 627.00,637.6 627.30,634.0 627.60,633.1 627.90,629.9 628.20,624.6 628.50,638.5 628.80,625.4 629.10,621.5 629.40,620.5 629.70,617.7 630.00,638.7 630.30,613.7 630.60,621.0 630.90,616.1 631.20,616.5 631.50,623.4 631.80,619.4 632.10,615.3 632.40,626.4 632.70,626.0 633.00,638.6 633.30,628.8 633.60,628.9 633.90,621.8 634.20,628.6 634.50,629.5 634.80,644.0 635.10,633.6 635.40,629.1 635.70,620.4 636.00,631.0 636.30,621.6 636.60,638.2 636.90,634.8 637.20,625.5 637.50,611.7 637.80,637.5 638.10,623.7 638.40,628.6 638.70,622.3 639.00,627.6 639.30,630.8 639.60,637.9 639.90,635.5 640.20,618.4 640.50,622.2 640.80,629.6 641.10,636.3 641.40,624.5 641.70,615.1 642.00,636.4 642.30,636.9 642.60,627.2 642.90,611.0 643.20,617.1 643.50,623.1 643.80,638.3 644.10,614.5 644.40,615.9 644.70,632.4 645.00,632.3 645.30,618.7 645.60,634.0 645.90,612.5 646.20,624.3 646.50,626.9 646.80,628.7 647.10,626.1 647.40,620.4 647.70,631.8 648.00,629.3 648.30,626.9 648.60,632.5 648.90,624.9 649.20,631.4 649.50,638.2 649.80,637.0 650.10,638.5 650.40,632.0 650.70,628.1 651.00,638.2 651.30,630.6 651.60,627.2 651.90,622.4 652.20,633.7 652.50,621.3 652.80,615.7 653.10,632.3 653.40,621.2 653.70,637.2 654.00,626.3 654.30,623.4 654.60,613.9 654.90,620.0 655.20,630.5 655.50,623.5 655.80,621.6 656.10,618.6 656.40,619.9 656.70,623.4 657.00,612.6 657.30,617.0 657.60,623.6 657.90,630.3 658.20,629.0 658.50,615.3 658.80,621.6 659.10,621.8 659.40,610.5 659.70,619.3 660.00,623.2 660.30,614.2 660.60,619.8 660.90,609.1 661.20,611.8 661.50,622.6 661.80,617.0 662.10,620.8 662.40,630.4 662.70,621.3 663.00,616.2 663.30,618.3 663.60,622.1 663.90,616.1 664.20,621.5 664.50,624.8 664.80,634.9" fill="none" stroke="#2cf52c" stroke-width="1.35" stroke-linejoin="bevel"/>
<text transform="translate(527.90,531.20) scale(1.000,1)" x="0" y="0" font-family="Liberation Serif" font-size="24.89" font-weight="bold" font-style="italic" fill="#000" textLength="109.30" lengthAdjust="spacingAndGlyphs">V<tspan font-size="23.14">o</tspan>=342 V</text>
<text transform="translate(219.40,603.50) scale(1.000,1)" x="0" y="0" font-family="Liberation Serif" font-size="24.73" font-weight="bold" font-style="italic" fill="#000" textLength="118.30" lengthAdjust="spacingAndGlyphs">I<tspan font-size="23.00">o</tspan>=720 <tspan font-size="23.00">m</tspan>A</text>
<text transform="translate(27.30,655.90) scale(1.000,1)" x="0" y="0" font-family="Liberation Serif" font-size="25.65" font-weight="bold" font-style="italic" fill="#000" textLength="117.90" lengthAdjust="spacingAndGlyphs">I<tspan font-size="23.85">o</tspan>=400 <tspan font-size="23.85">m</tspan>A</text>
<text transform="translate(38.50,811.90) scale(1.000,1)" x="0" y="0" font-family="Liberation Serif" font-size="32.06" font-weight="bold" font-style="italic" fill="#000" textLength="176.10" lengthAdjust="spacingAndGlyphs">200 A<tspan font-size="29.82">mp</tspan>/<tspan font-size="29.82">div</tspan></text>
<text transform="translate(248.10,814.00) scale(1.000,1)" x="0" y="0" font-family="Liberation Serif" font-size="33.28" font-weight="bold" font-style="italic" fill="#000" textLength="117.60" lengthAdjust="spacingAndGlyphs">5 <tspan font-size="30.95">sec</tspan>/<tspan font-size="30.95">div</tspan></text>
<text transform="translate(399.70,813.60) scale(1.000,1)" x="0" y="0" font-family="Liberation Serif" font-size="32.06" font-weight="bold" font-style="italic" fill="#000" textLength="132.60" lengthAdjust="spacingAndGlyphs">100 V/<tspan font-size="29.82">div</tspan></text>
<text transform="translate(164.30,519.60) scale(0.900,1)" x="0" y="0" font-family="Liberation Serif" font-size="23.05" font-weight="normal" font-style="normal" fill="#ff0000" textLength="147.22" lengthAdjust="spacing">V<tspan font-size="21.90">oltage</tspan> <tspan font-size="21.90">changes</tspan></text>
<text transform="translate(194.60,701.00) scale(0.900,1)" x="0" y="0" font-family="Liberation Serif" font-size="22.44" font-weight="normal" font-style="normal" fill="#ff0000" textLength="144.33" lengthAdjust="spacing">C<tspan font-size="21.32">urrent</tspan> <tspan font-size="21.32">changes</tspan></text>
<text transform="translate(118.52,763.23) scale(1.118,1)" font-family="Liberation Serif" font-size="15.77" fill="#0c0c1c">&lt;</text>
<text transform="translate(131.40,763.50) scale(1.000,1)" x="0" y="0" font-family="Liberation Serif" font-size="18.20" font-weight="bold" font-style="italic" fill="#0c0c1c" textLength="23.60" lengthAdjust="spacingAndGlyphs">300</text>
<text transform="translate(156.60,763.50) scale(1.000,1)" x="0" y="0" font-family="Liberation Serif" font-size="17.45" font-weight="bold" font-style="italic" fill="#0c0c1c" textLength="30.70" lengthAdjust="spacingAndGlyphs">msec</text>
<ellipse cx="159.5" cy="662.9" rx="26.9" ry="74" fill="none" stroke="#f4a4a4" stroke-width="0.85"/>
<path d="M148.70,744.90 L169.00,744.90" stroke="#000" stroke-width="1.5"/>
<path d="M145.70,744.90 l6,-3.6 l0,7.2 Z M172.00,744.90 l-6,-3.6 l0,7.2 Z" fill="#000"/>
<path d="M155.80,511.50 L155.80,531.00" stroke="#f00" stroke-width="1.8"/>
<path d="M155.80,537.00 l-4.3,-9.2 l8.6,0 Z" fill="#f00"/>
<path d="M155.80,569.20 L155.80,587.30" stroke="#f00" stroke-width="1.8"/>
<path d="M155.80,563.20 l-4.3,8.8 l8.6,0 Z" fill="#f00"/>
<rect x="547.80" y="792.80" width="115.10" height="18.40" rx="2" fill="#fffdc6"/>
<rect x="548.80" y="797.20" width="11.80" height="11.80" rx="4" fill="#1010ff"/>
<rect x="553.90" y="799.20" width="1.6" height="7.80" fill="#d0d0ff"/>
<rect x="553.10" y="801.70" width="3.2" height="1.2" fill="#d0d0ff"/>
<text x="564.80" y="807.80" font-family="Liberation Sans" font-size="13.95" font-weight="normal" font-style="normal" fill="#4848f0" textLength="36.8" lengthAdjust="spacingAndGlyphs" >&lt; 10Hz</text>
<text x="21.80" y="857.60" font-family="Liberation Sans" font-size="15.41" font-weight="normal" font-style="normal" fill="#5a5ae8" textLength="23.6" lengthAdjust="spacingAndGlyphs" >CH1</text>
<rect x="45.40" y="849.85" width="12.60" height="1.3" fill="#5a5ae8"/>
<rect x="45.40" y="853.24" width="12.60" height="1.3" fill="#5a5ae8"/>
<text x="62.90" y="857.60" font-family="Liberation Sans" font-size="15.41" font-weight="normal" font-style="normal" fill="#5a5ae8" textLength="27.9" lengthAdjust="spacingAndGlyphs" >100V</text>
<text x="135.80" y="857.60" font-family="Liberation Sans" font-size="15.41" font-weight="normal" font-style="normal" fill="#78f078" textLength="24.7" lengthAdjust="spacingAndGlyphs" >CH2</text>
<rect x="160.50" y="849.85" width="12.50" height="1.3" fill="#78f078"/>
<rect x="160.50" y="853.24" width="12.50" height="1.3" fill="#78f078"/>
<text x="178.00" y="857.60" font-family="Liberation Sans" font-size="15.41" font-weight="normal" font-style="normal" fill="#78f078" textLength="44.6" lengthAdjust="spacingAndGlyphs" >200mA</text>
<text x="250.00" y="857.80" font-family="Liberation Sans" font-size="15.70" font-weight="normal" font-style="normal" fill="#626262" textLength="45.0" lengthAdjust="spacingAndGlyphs" >M5.00s</text>
<text x="318.40" y="857.80" font-family="Liberation Sans" font-size="15.70" font-weight="normal" font-style="normal" fill="#626262" textLength="84.1" lengthAdjust="spacingAndGlyphs" >MPos:-30.00s</text>
<text transform="translate(271.40,902.60) scale(1.000,1)" x="0" y="0" font-family="Liberation Serif" font-size="37.56" font-weight="normal" font-style="normal" fill="#000" textLength="44.80" lengthAdjust="spacing">(b)</text>
</svg>
</body></html>
